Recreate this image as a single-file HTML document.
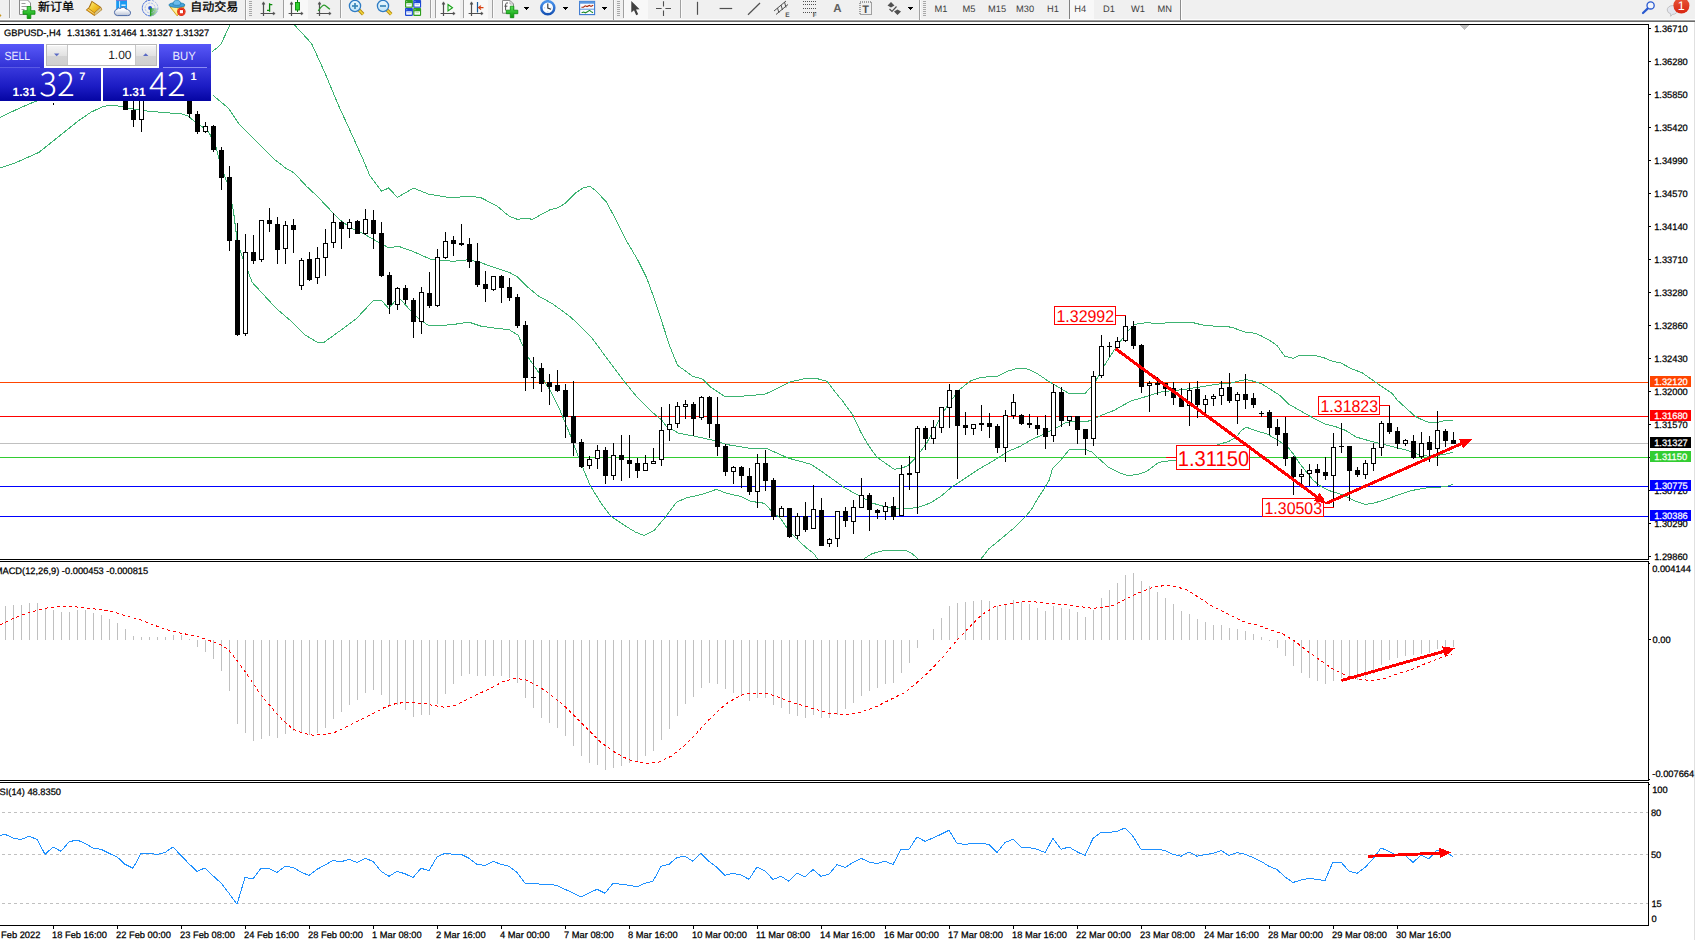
<!DOCTYPE html>
<html lang="zh"><head><meta charset="utf-8"><title>GBPUSD-,H4</title>
<style>
html,body{margin:0;padding:0;background:#fff;}
body{width:1695px;height:940px;overflow:hidden;position:relative;font-family:"Liberation Sans", "Noto Sans CJK SC", sans-serif;}
svg{position:absolute;left:0;top:0;display:block;}
text{font-family:"Liberation Sans", "Noto Sans CJK SC", sans-serif;white-space:pre;}
</style></head><body>
<svg width="1695" height="940" viewBox="0 0 1695 940" shape-rendering="crispEdges" text-rendering="geometricPrecision">
<defs>
<clipPath id="cm"><rect x="0" y="25" width="1648" height="534"/></clipPath>
<clipPath id="cmacd"><rect x="0" y="562" width="1648" height="218"/></clipPath>
<clipPath id="crsi"><rect x="0" y="783" width="1648" height="142"/></clipPath>
<linearGradient id="gbtn" x1="0" y1="0" x2="0" y2="1"><stop offset="0" stop-color="#5858f8"/><stop offset="1" stop-color="#3030d4"/></linearGradient>
<linearGradient id="gprice" x1="0" y1="0" x2="0" y2="1"><stop offset="0" stop-color="#3838dc"/><stop offset="0.55" stop-color="#1c1cc4"/><stop offset="1" stop-color="#0505a2"/></linearGradient>
<linearGradient id="gspin" x1="0" y1="0" x2="0" y2="1"><stop offset="0" stop-color="#f4f4f4"/><stop offset="0.5" stop-color="#e2e2e2"/><stop offset="0.5" stop-color="#d4d4d4"/><stop offset="1" stop-color="#cfcfcf"/></linearGradient>
<linearGradient id="gred" x1="0" y1="0" x2="0" y2="1"><stop offset="0" stop-color="#e8583a"/><stop offset="1" stop-color="#d82410"/></linearGradient>
<linearGradient id="ggold" x1="0" y1="0" x2="1" y2="1"><stop offset="0" stop-color="#fdf08a"/><stop offset="0.5" stop-color="#f2c428"/><stop offset="1" stop-color="#dc9a14"/></linearGradient>
<linearGradient id="gcloud" x1="0" y1="0" x2="0" y2="1"><stop offset="0.3" stop-color="#ffffff"/><stop offset="1" stop-color="#b8c2d6"/></linearGradient>
<linearGradient id="gsweep" x1="0" y1="0" x2="1" y2="0"><stop offset="0" stop-color="#2a9a2a"/><stop offset="1" stop-color="#cfe6cf"/></linearGradient>
<linearGradient id="gring" x1="0" y1="0" x2="0" y2="1"><stop offset="0" stop-color="#4a94ec"/><stop offset="1" stop-color="#1652b4"/></linearGradient>
<linearGradient id="glens" x1="0" y1="0" x2="0" y2="1"><stop offset="0" stop-color="#ecf9ff"/><stop offset="1" stop-color="#bfe2f6"/></linearGradient>
<linearGradient id="gblue" x1="0" y1="0" x2="0" y2="1"><stop offset="0" stop-color="#5aa8ee"/><stop offset="1" stop-color="#1c5fc0"/></linearGradient>
<linearGradient id="ggreen" x1="0" y1="0" x2="0" y2="1"><stop offset="0" stop-color="#55e055"/><stop offset="1" stop-color="#0a9a0a"/></linearGradient>
</defs>
<rect x="0" y="0" width="1695" height="940" fill="#fff" />
<g clip-path="url(#cm)">
<rect x="0" y="382" width="1648" height="1" fill="#ff4500" />
<rect x="0" y="416" width="1648" height="1" fill="#ff0000" />
<rect x="0" y="443" width="1648" height="1" fill="#c0c0c0" />
<rect x="0" y="457" width="1648" height="1" fill="#32cd32" />
<rect x="0" y="486" width="1648" height="1" fill="#0000ff" />
<rect x="0" y="516" width="1648" height="1" fill="#0000ff" />
<polyline points="0.0,117.4 15.6,110.0 31.2,103.1 60.0,92.0 100.0,82.0 150.0,70.0 190.0,60.0 212.9,51.2 220.7,44.7 229.8,25.2 232.0,18.0" fill="none" stroke="#3cb371" stroke-width="1" />
<polyline points="292.0,18.0 294.7,25.2 311.5,43.4 324.5,71.9 337.5,103.1 350.5,131.6 363.4,160.2 370.0,176.0 373.8,181.0 381.6,191.3 388.6,188.0 397.5,197.4 413.5,188.1 428.3,194.0 452.0,198.0 468.0,196.0 481.0,197.7 497.0,206.0 509.0,216.1 517.2,219.3 525.3,218.3 532.6,219.3 541.6,214.3 550.7,209.4 557.9,207.9 565.1,203.4 576.0,192.6 583.2,188.0 589.6,186.2 595.9,190.8 606.8,202.5 615.8,219.7 626.7,241.4 637.5,259.5 646.6,277.6 653.8,297.5 659.2,313.8 664.5,330.0 670.5,348.1 677.5,365.2 692.5,376.2 702.6,379.2 710.6,387.2 724.6,396.3 740.7,396.3 764.8,394.3 776.8,388.6 790.8,381.8 804.9,378.6 816.9,378.6 827.0,381.2 837.0,394.3 841.8,400.0 852.8,415.0 860.8,432.1 868.9,446.1 876.9,457.2 886.9,464.2 894.0,469.2 901.0,468.6 908.0,465.4 915.0,458.4 926.0,444.3 940.0,418.3 948.0,404.2 960.0,389.2 970.0,381.2 980.0,377.5 998.0,376.1 1008.0,371.1 1018.0,368.1 1028.0,369.1 1038.0,374.1 1048.5,381.3 1057.0,386.3 1068.3,393.1 1085.3,393.1 1090.3,387.7 1095.9,380.6 1103.7,366.5 1113.6,350.9 1120.7,341.0 1127.8,331.1 1134.9,324.4 1144.8,322.8 1160.4,323.3 1174.5,322.3 1192.9,322.6 1204.2,325.4 1218.4,326.4 1231.2,327.1 1245.3,332.2 1255.2,333.2 1260.0,335.3 1268.5,339.6 1277.0,345.5 1284.7,356.2 1293.2,358.3 1300.0,355.3 1313.6,355.3 1323.0,357.4 1332.3,361.3 1340.9,363.0 1351.1,368.5 1362.1,372.8 1374.9,381.7 1383.4,387.7 1391.9,393.2 1397.5,400.3 1407.1,409.1 1415.1,416.3 1421.5,419.5 1429.5,422.7 1437.4,422.3 1445.4,420.4 1452.9,420.4" fill="none" stroke="#3cb371" stroke-width="1" />
<polyline points="212.9,95.3 228.5,108.3 238.8,123.8 259.6,144.6 275.2,160.0 285.6,168.0 294.3,173.0 306.3,186.1 318.0,197.0 328.4,208.1 340.4,220.2 350.5,227.7 364.5,234.2 376.5,241.2 388.6,247.7 398.6,246.3 412.6,251.3 430.7,259.3 452.8,261.3 468.8,259.7 480.8,262.7 500.0,269.5 509.0,272.2 517.2,276.7 527.1,286.6 538.0,295.7 552.5,303.8 568.8,315.6 576.0,322.0 592.0,338.1 606.0,357.1 624.0,381.2 638.0,398.3 650.0,410.3 662.0,420.3 666.3,426.1 678.3,433.1 694.3,436.1 712.4,440.1 726.4,444.5 748.5,448.1 766.6,448.5 788.6,458.2 810.7,464.2 822.7,472.2 833.7,480.0 844.5,487.7 858.3,495.3 872.1,503.0 882.8,506.1 895.1,508.4 907.4,508.7 918.1,507.3 930.4,503.0 941.1,496.1 951.9,486.9 962.6,480.0 980.0,468.4 994.0,460.4 1008.0,451.4 1020.0,446.4 1032.0,439.3 1044.0,434.3 1060.0,425.9 1066.6,422.2 1078.4,421.6 1088.0,421.2 1094.0,418.6 1102.0,415.1 1114.0,410.4 1130.6,401.1 1144.8,396.9 1161.8,391.7 1181.6,389.8 1200.0,387.0 1217.0,384.2 1231.2,383.0 1241.1,380.6 1246.7,379.6 1253.8,381.3 1262.3,384.2 1272.2,390.5 1280.0,395.5 1289.0,404.3 1300.2,410.7 1313.0,417.9 1325.2,424.0 1337.6,427.3 1346.0,430.6 1356.0,437.0 1367.2,440.2 1380.0,443.4 1392.8,446.6 1405.5,449.8 1418.3,454.6 1427.9,456.2 1437.4,455.4 1447.0,453.8 1452.9,452.2" fill="none" stroke="#3cb371" stroke-width="1" />
<polyline points="0.0,168.0 15.6,162.8 38.9,152.4 51.9,142.0 64.9,131.6 77.9,121.2 90.9,112.2 103.8,106.2 114.2,105.2 129.8,108.3 145.4,110.9 166.1,112.7 181.7,114.0 188.2,116.1 197.3,123.8 207.7,130.3 215.5,144.6 220.7,165.4 228.5,186.2 233.6,212.1 237.1,240.2 242.1,256.3 252.2,282.4 276.2,308.4 290.3,320.5 304.3,334.5 318.4,343.0 324.4,342.1 340.4,330.5 356.5,318.5 373.5,300.4 381.5,300.4 388.6,308.4 395.6,300.4 400.6,299.4 408.6,308.4 420.7,320.5 428.7,325.5 450.8,324.9 468.8,322.1 480.8,326.1 496.9,328.5 508.9,329.5 518.0,335.1 528.0,357.1 540.0,374.2 550.0,390.2 560.0,410.3 570.0,434.4 580.0,461.0 590.4,486.0 601.8,504.3 611.0,516.3 626.0,526.4 636.0,532.4 644.2,535.4 654.2,530.4 664.3,518.4 676.3,502.3 686.3,497.9 702.4,494.3 716.4,489.3 726.4,493.3 740.5,496.3 750.5,501.3 764.6,503.3 772.6,512.3 780.6,518.4 788.6,530.4 796.6,538.4 800.0,542.1 807.7,549.0 813.8,553.6 817.6,559.0 822.0,566.0 858.0,566.0 863.7,559.0 872.1,553.6 882.8,550.9 895.1,550.1 905.8,550.6 912.0,553.6 918.1,559.0 923.0,566.0 976.0,566.0 981.0,559.0 988.7,549.0 997.9,541.4 1007.1,533.7 1016.3,526.0 1025.5,516.8 1031.6,509.1 1037.8,498.4 1043.9,489.2 1049.3,480.0 1052.5,468.4 1060.5,460.4 1069.5,449.4 1085.6,449.4 1092.6,452.4 1098.6,458.4 1108.6,467.4 1118.7,472.4 1126.7,475.4 1136.7,474.8 1146.7,471.4 1158.3,462.6 1164.0,461.2 1174.8,460.7 1185.0,456.0 1200.0,450.0 1217.3,444.9 1229.3,441.2 1236.7,436.6 1241.0,431.0 1246.0,427.1 1255.5,430.6 1266.7,433.8 1277.9,440.2 1287.4,446.6 1293.8,454.6 1300.2,464.1 1306.6,472.1 1313.0,480.1 1321.0,486.5 1328.9,490.5 1341.7,494.5 1354.5,500.8 1365.6,504.4 1373.6,503.2 1386.4,499.3 1399.1,494.5 1411.9,490.5 1424.7,488.1 1437.4,487.3 1447.0,486.5 1452.9,484.1" fill="none" stroke="#3cb371" stroke-width="1" />
<rect x="53" y="103" width="1" height="2" fill="#000" />
<rect x="125" y="90" width="1" height="20" fill="#000" />
<rect x="123" y="92" width="5" height="18" fill="#000" />
<rect x="133" y="100" width="1" height="27" fill="#000" />
<rect x="131" y="110" width="5" height="10" fill="#000" />
<rect x="141" y="95" width="1" height="37" fill="#000" />
<rect x="139" y="97" width="5" height="23" fill="#000" />
<rect x="140" y="98" width="3" height="21" fill="#fff" />
<rect x="189" y="90" width="1" height="28" fill="#000" />
<rect x="187" y="92" width="5" height="22" fill="#000" />
<rect x="197" y="111" width="1" height="23" fill="#000" />
<rect x="195" y="114" width="5" height="18" fill="#000" />
<rect x="205" y="122" width="1" height="11" fill="#000" />
<rect x="203" y="126" width="5" height="6" fill="#000" />
<rect x="204" y="127" width="3" height="4" fill="#fff" />
<rect x="213" y="125" width="1" height="27" fill="#000" />
<rect x="211" y="126" width="5" height="24" fill="#000" />
<rect x="221" y="147" width="1" height="43" fill="#000" />
<rect x="219" y="150" width="5" height="28" fill="#000" />
<rect x="229" y="166" width="1" height="85" fill="#000" />
<rect x="227" y="177" width="5" height="64" fill="#000" />
<rect x="237" y="223" width="1" height="113" fill="#000" />
<rect x="235" y="240" width="5" height="95" fill="#000" />
<rect x="245" y="234" width="1" height="102" fill="#000" />
<rect x="243" y="252" width="5" height="82" fill="#000" />
<rect x="244" y="253" width="3" height="80" fill="#fff" />
<rect x="253" y="235" width="1" height="29" fill="#000" />
<rect x="251" y="252" width="5" height="9" fill="#000" />
<rect x="261" y="220" width="1" height="42" fill="#000" />
<rect x="259" y="220" width="5" height="40" fill="#000" />
<rect x="260" y="221" width="3" height="38" fill="#fff" />
<rect x="269" y="208" width="1" height="24" fill="#000" />
<rect x="267" y="220" width="5" height="4" fill="#000" />
<rect x="277" y="217" width="1" height="47" fill="#000" />
<rect x="275" y="224" width="5" height="26" fill="#000" />
<rect x="285" y="221" width="1" height="43" fill="#000" />
<rect x="283" y="225" width="5" height="24" fill="#000" />
<rect x="284" y="226" width="3" height="22" fill="#fff" />
<rect x="293" y="219" width="1" height="34" fill="#000" />
<rect x="291" y="225" width="5" height="5" fill="#000" />
<rect x="301" y="258" width="1" height="32" fill="#000" />
<rect x="299" y="260" width="5" height="26" fill="#000" />
<rect x="300" y="261" width="3" height="24" fill="#fff" />
<rect x="309" y="252" width="1" height="29" fill="#000" />
<rect x="307" y="259" width="5" height="21" fill="#000" />
<rect x="317" y="247" width="1" height="37" fill="#000" />
<rect x="315" y="258" width="5" height="20" fill="#000" />
<rect x="316" y="259" width="3" height="18" fill="#fff" />
<rect x="325" y="229" width="1" height="47" fill="#000" />
<rect x="323" y="243" width="5" height="15" fill="#000" />
<rect x="324" y="244" width="3" height="13" fill="#fff" />
<rect x="333" y="213" width="1" height="35" fill="#000" />
<rect x="331" y="222" width="5" height="21" fill="#000" />
<rect x="332" y="223" width="3" height="19" fill="#fff" />
<rect x="341" y="221" width="1" height="28" fill="#000" />
<rect x="339" y="222" width="5" height="7" fill="#000" />
<rect x="349" y="219" width="1" height="19" fill="#000" />
<rect x="347" y="222" width="5" height="7" fill="#000" />
<rect x="348" y="223" width="3" height="5" fill="#fff" />
<rect x="357" y="220" width="1" height="14" fill="#000" />
<rect x="355" y="221" width="5" height="13" fill="#000" />
<rect x="365" y="209" width="1" height="26" fill="#000" />
<rect x="363" y="219" width="5" height="15" fill="#000" />
<rect x="364" y="220" width="3" height="13" fill="#fff" />
<rect x="373" y="210" width="1" height="39" fill="#000" />
<rect x="371" y="220" width="5" height="14" fill="#000" />
<rect x="381" y="222" width="1" height="55" fill="#000" />
<rect x="379" y="233" width="5" height="43" fill="#000" />
<rect x="389" y="272" width="1" height="42" fill="#000" />
<rect x="387" y="275" width="5" height="30" fill="#000" />
<rect x="397" y="287" width="1" height="23" fill="#000" />
<rect x="395" y="288" width="5" height="17" fill="#000" />
<rect x="396" y="289" width="3" height="15" fill="#fff" />
<rect x="405" y="285" width="1" height="19" fill="#000" />
<rect x="403" y="288" width="5" height="12" fill="#000" />
<rect x="413" y="298" width="1" height="40" fill="#000" />
<rect x="411" y="300" width="5" height="22" fill="#000" />
<rect x="421" y="287" width="1" height="47" fill="#000" />
<rect x="419" y="292" width="5" height="30" fill="#000" />
<rect x="420" y="293" width="3" height="28" fill="#fff" />
<rect x="429" y="272" width="1" height="36" fill="#000" />
<rect x="427" y="293" width="5" height="13" fill="#000" />
<rect x="437" y="249" width="1" height="58" fill="#000" />
<rect x="435" y="257" width="5" height="49" fill="#000" />
<rect x="436" y="258" width="3" height="47" fill="#fff" />
<rect x="445" y="232" width="1" height="27" fill="#000" />
<rect x="443" y="241" width="5" height="17" fill="#000" />
<rect x="444" y="242" width="3" height="15" fill="#fff" />
<rect x="453" y="236" width="1" height="20" fill="#000" />
<rect x="451" y="240" width="5" height="4" fill="#000" />
<rect x="461" y="224" width="1" height="22" fill="#000" />
<rect x="459" y="243" width="5" height="2" fill="#000" />
<rect x="469" y="238" width="1" height="30" fill="#000" />
<rect x="467" y="244" width="5" height="18" fill="#000" />
<rect x="477" y="243" width="1" height="44" fill="#000" />
<rect x="475" y="261" width="5" height="24" fill="#000" />
<rect x="485" y="271" width="1" height="31" fill="#000" />
<rect x="483" y="284" width="5" height="5" fill="#000" />
<rect x="493" y="276" width="1" height="15" fill="#000" />
<rect x="491" y="276" width="5" height="14" fill="#000" />
<rect x="492" y="277" width="3" height="12" fill="#fff" />
<rect x="501" y="275" width="1" height="28" fill="#000" />
<rect x="499" y="276" width="5" height="12" fill="#000" />
<rect x="509" y="278" width="1" height="23" fill="#000" />
<rect x="507" y="287" width="5" height="11" fill="#000" />
<rect x="517" y="294" width="1" height="34" fill="#000" />
<rect x="515" y="297" width="5" height="29" fill="#000" />
<rect x="525" y="321" width="1" height="70" fill="#000" />
<rect x="523" y="325" width="5" height="53" fill="#000" />
<rect x="533" y="357" width="1" height="32" fill="#000" />
<rect x="531" y="377" width="5" height="1" fill="#000" />
<rect x="541" y="363" width="1" height="29" fill="#000" />
<rect x="539" y="368" width="5" height="16" fill="#000" />
<rect x="549" y="374" width="1" height="31" fill="#000" />
<rect x="547" y="382" width="5" height="5" fill="#000" />
<rect x="557" y="370" width="1" height="22" fill="#000" />
<rect x="555" y="385" width="5" height="6" fill="#000" />
<rect x="565" y="384" width="1" height="54" fill="#000" />
<rect x="563" y="390" width="5" height="27" fill="#000" />
<rect x="573" y="381" width="1" height="75" fill="#000" />
<rect x="571" y="416" width="5" height="27" fill="#000" />
<rect x="581" y="439" width="1" height="29" fill="#000" />
<rect x="579" y="442" width="5" height="25" fill="#000" />
<rect x="589" y="456" width="1" height="13" fill="#000" />
<rect x="587" y="459" width="5" height="7" fill="#000" />
<rect x="588" y="460" width="3" height="5" fill="#fff" />
<rect x="597" y="445" width="1" height="24" fill="#000" />
<rect x="595" y="450" width="5" height="9" fill="#000" />
<rect x="596" y="451" width="3" height="7" fill="#fff" />
<rect x="605" y="447" width="1" height="37" fill="#000" />
<rect x="603" y="450" width="5" height="26" fill="#000" />
<rect x="613" y="443" width="1" height="37" fill="#000" />
<rect x="611" y="455" width="5" height="21" fill="#000" />
<rect x="612" y="456" width="3" height="19" fill="#fff" />
<rect x="621" y="435" width="1" height="46" fill="#000" />
<rect x="619" y="455" width="5" height="5" fill="#000" />
<rect x="629" y="435" width="1" height="43" fill="#000" />
<rect x="627" y="460" width="5" height="4" fill="#000" />
<rect x="637" y="458" width="1" height="20" fill="#000" />
<rect x="635" y="463" width="5" height="8" fill="#000" />
<rect x="645" y="455" width="1" height="16" fill="#000" />
<rect x="643" y="463" width="5" height="8" fill="#000" />
<rect x="644" y="464" width="3" height="6" fill="#fff" />
<rect x="653" y="448" width="1" height="16" fill="#000" />
<rect x="651" y="461" width="5" height="3" fill="#000" />
<rect x="652" y="462" width="3" height="1" fill="#fff" />
<rect x="661" y="407" width="1" height="59" fill="#000" />
<rect x="659" y="430" width="5" height="30" fill="#000" />
<rect x="660" y="431" width="3" height="28" fill="#fff" />
<rect x="669" y="404" width="1" height="37" fill="#000" />
<rect x="667" y="424" width="5" height="6" fill="#000" />
<rect x="668" y="425" width="3" height="4" fill="#fff" />
<rect x="677" y="402" width="1" height="26" fill="#000" />
<rect x="675" y="406" width="5" height="18" fill="#000" />
<rect x="676" y="407" width="3" height="16" fill="#fff" />
<rect x="685" y="400" width="1" height="19" fill="#000" />
<rect x="683" y="404" width="5" height="3" fill="#000" />
<rect x="684" y="405" width="3" height="1" fill="#fff" />
<rect x="693" y="402" width="1" height="34" fill="#000" />
<rect x="691" y="404" width="5" height="15" fill="#000" />
<rect x="701" y="396" width="1" height="24" fill="#000" />
<rect x="699" y="397" width="5" height="21" fill="#000" />
<rect x="700" y="398" width="3" height="19" fill="#fff" />
<rect x="709" y="396" width="1" height="42" fill="#000" />
<rect x="707" y="397" width="5" height="27" fill="#000" />
<rect x="717" y="397" width="1" height="59" fill="#000" />
<rect x="715" y="424" width="5" height="23" fill="#000" />
<rect x="725" y="444" width="1" height="32" fill="#000" />
<rect x="723" y="446" width="5" height="26" fill="#000" />
<rect x="733" y="466" width="1" height="18" fill="#000" />
<rect x="731" y="467" width="5" height="5" fill="#000" />
<rect x="732" y="468" width="3" height="3" fill="#fff" />
<rect x="741" y="466" width="1" height="22" fill="#000" />
<rect x="739" y="467" width="5" height="9" fill="#000" />
<rect x="749" y="468" width="1" height="27" fill="#000" />
<rect x="747" y="476" width="5" height="16" fill="#000" />
<rect x="757" y="454" width="1" height="54" fill="#000" />
<rect x="755" y="463" width="5" height="29" fill="#000" />
<rect x="756" y="464" width="3" height="27" fill="#fff" />
<rect x="765" y="450" width="1" height="41" fill="#000" />
<rect x="763" y="463" width="5" height="18" fill="#000" />
<rect x="773" y="478" width="1" height="42" fill="#000" />
<rect x="771" y="480" width="5" height="37" fill="#000" />
<rect x="781" y="506" width="1" height="11" fill="#000" />
<rect x="779" y="508" width="5" height="9" fill="#000" />
<rect x="780" y="509" width="3" height="7" fill="#fff" />
<rect x="789" y="508" width="1" height="30" fill="#000" />
<rect x="787" y="508" width="5" height="29" fill="#000" />
<rect x="797" y="513" width="1" height="26" fill="#000" />
<rect x="795" y="516" width="5" height="20" fill="#000" />
<rect x="796" y="517" width="3" height="18" fill="#fff" />
<rect x="805" y="502" width="1" height="30" fill="#000" />
<rect x="803" y="516" width="5" height="14" fill="#000" />
<rect x="813" y="485" width="1" height="44" fill="#000" />
<rect x="811" y="509" width="5" height="20" fill="#000" />
<rect x="812" y="510" width="3" height="18" fill="#fff" />
<rect x="821" y="498" width="1" height="48" fill="#000" />
<rect x="819" y="510" width="5" height="36" fill="#000" />
<rect x="829" y="538" width="1" height="9" fill="#000" />
<rect x="827" y="539" width="5" height="5" fill="#000" />
<rect x="828" y="540" width="3" height="3" fill="#fff" />
<rect x="837" y="511" width="1" height="36" fill="#000" />
<rect x="835" y="511" width="5" height="28" fill="#000" />
<rect x="836" y="512" width="3" height="26" fill="#fff" />
<rect x="845" y="507" width="1" height="20" fill="#000" />
<rect x="843" y="511" width="5" height="10" fill="#000" />
<rect x="853" y="500" width="1" height="34" fill="#000" />
<rect x="851" y="507" width="5" height="15" fill="#000" />
<rect x="852" y="508" width="3" height="13" fill="#fff" />
<rect x="861" y="478" width="1" height="30" fill="#000" />
<rect x="859" y="495" width="5" height="13" fill="#000" />
<rect x="860" y="496" width="3" height="11" fill="#fff" />
<rect x="869" y="493" width="1" height="38" fill="#000" />
<rect x="867" y="495" width="5" height="15" fill="#000" />
<rect x="877" y="509" width="1" height="10" fill="#000" />
<rect x="875" y="510" width="5" height="3" fill="#000" />
<rect x="885" y="502" width="1" height="18" fill="#000" />
<rect x="883" y="506" width="5" height="6" fill="#000" />
<rect x="884" y="507" width="3" height="4" fill="#fff" />
<rect x="893" y="497" width="1" height="23" fill="#000" />
<rect x="891" y="506" width="5" height="11" fill="#000" />
<rect x="901" y="465" width="1" height="51" fill="#000" />
<rect x="899" y="474" width="5" height="42" fill="#000" />
<rect x="900" y="475" width="3" height="40" fill="#fff" />
<rect x="909" y="456" width="1" height="34" fill="#000" />
<rect x="907" y="473" width="5" height="2" fill="#000" />
<rect x="917" y="426" width="1" height="88" fill="#000" />
<rect x="915" y="428" width="5" height="45" fill="#000" />
<rect x="916" y="429" width="3" height="43" fill="#fff" />
<rect x="925" y="426" width="1" height="24" fill="#000" />
<rect x="923" y="428" width="5" height="11" fill="#000" />
<rect x="933" y="420" width="1" height="24" fill="#000" />
<rect x="931" y="427" width="5" height="12" fill="#000" />
<rect x="932" y="428" width="3" height="10" fill="#fff" />
<rect x="941" y="407" width="1" height="26" fill="#000" />
<rect x="939" y="407" width="5" height="21" fill="#000" />
<rect x="940" y="408" width="3" height="19" fill="#fff" />
<rect x="949" y="384" width="1" height="44" fill="#000" />
<rect x="947" y="390" width="5" height="18" fill="#000" />
<rect x="948" y="391" width="3" height="16" fill="#fff" />
<rect x="957" y="390" width="1" height="89" fill="#000" />
<rect x="955" y="390" width="5" height="36" fill="#000" />
<rect x="965" y="412" width="1" height="23" fill="#000" />
<rect x="963" y="425" width="5" height="3" fill="#000" />
<rect x="973" y="424" width="1" height="11" fill="#000" />
<rect x="971" y="424" width="5" height="5" fill="#000" />
<rect x="972" y="425" width="3" height="3" fill="#fff" />
<rect x="981" y="405" width="1" height="26" fill="#000" />
<rect x="979" y="423" width="5" height="2" fill="#000" />
<rect x="989" y="413" width="1" height="25" fill="#000" />
<rect x="987" y="423" width="5" height="4" fill="#000" />
<rect x="997" y="424" width="1" height="29" fill="#000" />
<rect x="995" y="426" width="5" height="22" fill="#000" />
<rect x="1005" y="410" width="1" height="52" fill="#000" />
<rect x="1003" y="415" width="5" height="33" fill="#000" />
<rect x="1004" y="416" width="3" height="31" fill="#fff" />
<rect x="1013" y="394" width="1" height="25" fill="#000" />
<rect x="1011" y="402" width="5" height="14" fill="#000" />
<rect x="1012" y="403" width="3" height="12" fill="#fff" />
<rect x="1021" y="414" width="1" height="11" fill="#000" />
<rect x="1019" y="415" width="5" height="9" fill="#000" />
<rect x="1029" y="414" width="1" height="14" fill="#000" />
<rect x="1027" y="423" width="5" height="2" fill="#000" />
<rect x="1037" y="417" width="1" height="18" fill="#000" />
<rect x="1035" y="425" width="5" height="4" fill="#000" />
<rect x="1045" y="415" width="1" height="34" fill="#000" />
<rect x="1043" y="428" width="5" height="9" fill="#000" />
<rect x="1053" y="384" width="1" height="58" fill="#000" />
<rect x="1051" y="392" width="5" height="44" fill="#000" />
<rect x="1052" y="393" width="3" height="42" fill="#fff" />
<rect x="1061" y="387" width="1" height="40" fill="#000" />
<rect x="1059" y="392" width="5" height="29" fill="#000" />
<rect x="1069" y="416" width="1" height="10" fill="#000" />
<rect x="1067" y="416" width="5" height="5" fill="#000" />
<rect x="1068" y="417" width="3" height="3" fill="#fff" />
<rect x="1077" y="416" width="1" height="28" fill="#000" />
<rect x="1075" y="416" width="5" height="14" fill="#000" />
<rect x="1085" y="429" width="1" height="26" fill="#000" />
<rect x="1083" y="429" width="5" height="10" fill="#000" />
<rect x="1093" y="371" width="1" height="75" fill="#000" />
<rect x="1091" y="376" width="5" height="63" fill="#000" />
<rect x="1092" y="377" width="3" height="61" fill="#fff" />
<rect x="1101" y="335" width="1" height="43" fill="#000" />
<rect x="1099" y="346" width="5" height="30" fill="#000" />
<rect x="1100" y="347" width="3" height="28" fill="#fff" />
<rect x="1109" y="342" width="1" height="15" fill="#000" />
<rect x="1107" y="346" width="5" height="1" fill="#000" />
<rect x="1117" y="337" width="1" height="11" fill="#000" />
<rect x="1115" y="341" width="5" height="7" fill="#000" />
<rect x="1116" y="342" width="3" height="5" fill="#fff" />
<rect x="1125" y="316" width="1" height="26" fill="#000" />
<rect x="1123" y="326" width="5" height="15" fill="#000" />
<rect x="1124" y="327" width="3" height="13" fill="#fff" />
<rect x="1133" y="321" width="1" height="28" fill="#000" />
<rect x="1131" y="326" width="5" height="20" fill="#000" />
<rect x="1141" y="344" width="1" height="49" fill="#000" />
<rect x="1139" y="345" width="5" height="42" fill="#000" />
<rect x="1149" y="381" width="1" height="31" fill="#000" />
<rect x="1147" y="383" width="5" height="3" fill="#000" />
<rect x="1148" y="384" width="3" height="1" fill="#fff" />
<rect x="1157" y="377" width="1" height="18" fill="#000" />
<rect x="1155" y="383" width="5" height="2" fill="#000" />
<rect x="1165" y="383" width="1" height="13" fill="#000" />
<rect x="1163" y="383" width="5" height="6" fill="#000" />
<rect x="1173" y="382" width="1" height="23" fill="#000" />
<rect x="1171" y="388" width="5" height="10" fill="#000" />
<rect x="1181" y="388" width="1" height="19" fill="#000" />
<rect x="1179" y="398" width="5" height="9" fill="#000" />
<rect x="1189" y="383" width="1" height="43" fill="#000" />
<rect x="1187" y="390" width="5" height="16" fill="#000" />
<rect x="1188" y="391" width="3" height="14" fill="#fff" />
<rect x="1197" y="381" width="1" height="37" fill="#000" />
<rect x="1195" y="389" width="5" height="16" fill="#000" />
<rect x="1205" y="395" width="1" height="19" fill="#000" />
<rect x="1203" y="399" width="5" height="6" fill="#000" />
<rect x="1204" y="400" width="3" height="4" fill="#fff" />
<rect x="1213" y="394" width="1" height="12" fill="#000" />
<rect x="1211" y="396" width="5" height="3" fill="#000" />
<rect x="1212" y="397" width="3" height="1" fill="#fff" />
<rect x="1221" y="381" width="1" height="24" fill="#000" />
<rect x="1219" y="388" width="5" height="8" fill="#000" />
<rect x="1220" y="389" width="3" height="6" fill="#fff" />
<rect x="1229" y="373" width="1" height="30" fill="#000" />
<rect x="1227" y="387" width="5" height="14" fill="#000" />
<rect x="1237" y="392" width="1" height="32" fill="#000" />
<rect x="1235" y="394" width="5" height="7" fill="#000" />
<rect x="1236" y="395" width="3" height="5" fill="#fff" />
<rect x="1245" y="374" width="1" height="35" fill="#000" />
<rect x="1243" y="394" width="5" height="6" fill="#000" />
<rect x="1253" y="393" width="1" height="15" fill="#000" />
<rect x="1251" y="398" width="5" height="7" fill="#000" />
<rect x="1261" y="411" width="1" height="6" fill="#000" />
<rect x="1259" y="413" width="5" height="1" fill="#000" />
<rect x="1269" y="410" width="1" height="25" fill="#000" />
<rect x="1267" y="412" width="5" height="16" fill="#000" />
<rect x="1277" y="419" width="1" height="27" fill="#000" />
<rect x="1275" y="427" width="5" height="8" fill="#000" />
<rect x="1285" y="417" width="1" height="49" fill="#000" />
<rect x="1283" y="433" width="5" height="26" fill="#000" />
<rect x="1293" y="456" width="1" height="39" fill="#000" />
<rect x="1291" y="457" width="5" height="20" fill="#000" />
<rect x="1301" y="469" width="1" height="17" fill="#000" />
<rect x="1299" y="474" width="5" height="3" fill="#000" />
<rect x="1300" y="475" width="3" height="1" fill="#fff" />
<rect x="1309" y="464" width="1" height="22" fill="#000" />
<rect x="1307" y="470" width="5" height="4" fill="#000" />
<rect x="1308" y="471" width="3" height="2" fill="#fff" />
<rect x="1317" y="464" width="1" height="22" fill="#000" />
<rect x="1315" y="469" width="5" height="4" fill="#000" />
<rect x="1325" y="457" width="1" height="23" fill="#000" />
<rect x="1323" y="472" width="5" height="4" fill="#000" />
<rect x="1333" y="433" width="1" height="75" fill="#000" />
<rect x="1331" y="447" width="5" height="29" fill="#000" />
<rect x="1332" y="448" width="3" height="27" fill="#fff" />
<rect x="1341" y="423" width="1" height="30" fill="#000" />
<rect x="1339" y="446" width="5" height="1" fill="#000" />
<rect x="1349" y="446" width="1" height="55" fill="#000" />
<rect x="1347" y="446" width="5" height="25" fill="#000" />
<rect x="1357" y="467" width="1" height="10" fill="#000" />
<rect x="1355" y="470" width="5" height="5" fill="#000" />
<rect x="1365" y="460" width="1" height="19" fill="#000" />
<rect x="1363" y="463" width="5" height="12" fill="#000" />
<rect x="1364" y="464" width="3" height="10" fill="#fff" />
<rect x="1373" y="443" width="1" height="28" fill="#000" />
<rect x="1371" y="448" width="5" height="16" fill="#000" />
<rect x="1372" y="449" width="3" height="14" fill="#fff" />
<rect x="1381" y="421" width="1" height="35" fill="#000" />
<rect x="1379" y="423" width="5" height="25" fill="#000" />
<rect x="1380" y="424" width="3" height="23" fill="#fff" />
<rect x="1389" y="405" width="1" height="29" fill="#000" />
<rect x="1387" y="423" width="5" height="9" fill="#000" />
<rect x="1397" y="427" width="1" height="22" fill="#000" />
<rect x="1395" y="431" width="5" height="13" fill="#000" />
<rect x="1405" y="439" width="1" height="7" fill="#000" />
<rect x="1403" y="440" width="5" height="4" fill="#000" />
<rect x="1404" y="441" width="3" height="2" fill="#fff" />
<rect x="1413" y="435" width="1" height="24" fill="#000" />
<rect x="1411" y="441" width="5" height="17" fill="#000" />
<rect x="1421" y="432" width="1" height="27" fill="#000" />
<rect x="1419" y="443" width="5" height="14" fill="#000" />
<rect x="1420" y="444" width="3" height="12" fill="#fff" />
<rect x="1429" y="436" width="1" height="26" fill="#000" />
<rect x="1427" y="442" width="5" height="8" fill="#000" />
<rect x="1437" y="411" width="1" height="55" fill="#000" />
<rect x="1435" y="430" width="5" height="19" fill="#000" />
<rect x="1436" y="431" width="3" height="17" fill="#fff" />
<rect x="1445" y="429" width="1" height="18" fill="#000" />
<rect x="1443" y="431" width="5" height="10" fill="#000" />
<rect x="1453" y="432" width="1" height="12" fill="#000" />
<rect x="1451" y="440" width="5" height="4" fill="#000" />
</g>
<rect x="1116" y="315" width="10" height="1" fill="#ff0000" />
<rect x="1054" y="306" width="62" height="19" fill="#ff0000" />
<rect x="1055" y="307" width="60" height="17" fill="#fff" />
<text x="1056.5" y="321.6" font-size="17" fill="#ff0000" text-anchor="start" font-weight="normal" textLength="57.6" lengthAdjust="spacingAndGlyphs">1.32992</text>
<rect x="1380" y="405" width="10" height="1" fill="#ff0000" />
<rect x="1318" y="396" width="62" height="19" fill="#ff0000" />
<rect x="1319" y="397" width="60" height="17" fill="#fff" />
<text x="1320.5" y="411.6" font-size="17" fill="#ff0000" text-anchor="start" font-weight="normal" textLength="57.6" lengthAdjust="spacingAndGlyphs">1.31823</text>
<rect x="1324" y="507" width="10" height="1" fill="#ff0000" />
<rect x="1262" y="498" width="62" height="19" fill="#ff0000" />
<rect x="1263" y="499" width="60" height="17" fill="#fff" />
<text x="1264.5" y="513.6" font-size="17" fill="#ff0000" text-anchor="start" font-weight="normal" textLength="57.6" lengthAdjust="spacingAndGlyphs">1.30503</text>
<rect x="1166" y="457" width="10" height="1" fill="#ff0000" />
<rect x="1176" y="445" width="74" height="25" fill="#ff0000" />
<rect x="1177" y="446" width="72" height="23" fill="#fff" />
<text x="1177.8" y="465.8" font-size="21.5" fill="#ff0000" text-anchor="start" font-weight="normal" textLength="71.4" lengthAdjust="spacingAndGlyphs">1.31150</text>
<line x1="1115.8" y1="348.9" x2="1318.2" y2="497.9" stroke="#ff0000" stroke-width="3.05"/>
<polygon points="1326.3,503.8 1313.6,500.9 1319.7,492.5" fill="#ff0000"/>
<line x1="1326.2" y1="503.4" x2="1463.0" y2="443.0" stroke="#ff0000" stroke-width="2.9"/>
<polygon points="1472.1,439.0 1463.2,448.6 1459.0,439.1" fill="#ff0000"/>
<g clip-path="url(#cmacd)">
<rect x="5" y="606" width="1" height="34" fill="#c0c0c0" />
<rect x="13" y="605" width="1" height="35" fill="#c0c0c0" />
<rect x="21" y="605" width="1" height="35" fill="#c0c0c0" />
<rect x="29" y="603" width="1" height="37" fill="#c0c0c0" />
<rect x="37" y="603" width="1" height="37" fill="#c0c0c0" />
<rect x="45" y="608" width="1" height="32" fill="#c0c0c0" />
<rect x="53" y="610" width="1" height="30" fill="#c0c0c0" />
<rect x="61" y="612" width="1" height="28" fill="#c0c0c0" />
<rect x="69" y="612" width="1" height="28" fill="#c0c0c0" />
<rect x="77" y="610" width="1" height="30" fill="#c0c0c0" />
<rect x="85" y="610" width="1" height="30" fill="#c0c0c0" />
<rect x="93" y="613" width="1" height="27" fill="#c0c0c0" />
<rect x="101" y="615" width="1" height="25" fill="#c0c0c0" />
<rect x="109" y="619" width="1" height="21" fill="#c0c0c0" />
<rect x="117" y="623" width="1" height="17" fill="#c0c0c0" />
<rect x="125" y="629" width="1" height="11" fill="#c0c0c0" />
<rect x="133" y="636" width="1" height="4" fill="#c0c0c0" />
<rect x="141" y="637" width="1" height="3" fill="#c0c0c0" />
<rect x="149" y="637" width="1" height="3" fill="#c0c0c0" />
<rect x="157" y="637" width="1" height="3" fill="#c0c0c0" />
<rect x="165" y="637" width="1" height="3" fill="#c0c0c0" />
<rect x="173" y="635" width="1" height="5" fill="#c0c0c0" />
<rect x="181" y="635" width="1" height="5" fill="#c0c0c0" />
<rect x="189" y="639" width="1" height="1" fill="#c0c0c0" />
<rect x="197" y="640" width="1" height="7" fill="#c0c0c0" />
<rect x="205" y="640" width="1" height="12" fill="#c0c0c0" />
<rect x="213" y="640" width="1" height="19" fill="#c0c0c0" />
<rect x="221" y="640" width="1" height="31" fill="#c0c0c0" />
<rect x="229" y="640" width="1" height="51" fill="#c0c0c0" />
<rect x="237" y="640" width="1" height="84" fill="#c0c0c0" />
<rect x="245" y="640" width="1" height="93" fill="#c0c0c0" />
<rect x="253" y="640" width="1" height="101" fill="#c0c0c0" />
<rect x="261" y="640" width="1" height="99" fill="#c0c0c0" />
<rect x="269" y="640" width="1" height="96" fill="#c0c0c0" />
<rect x="277" y="640" width="1" height="98" fill="#c0c0c0" />
<rect x="285" y="640" width="1" height="94" fill="#c0c0c0" />
<rect x="293" y="640" width="1" height="91" fill="#c0c0c0" />
<rect x="301" y="640" width="1" height="93" fill="#c0c0c0" />
<rect x="309" y="640" width="1" height="95" fill="#c0c0c0" />
<rect x="317" y="640" width="1" height="93" fill="#c0c0c0" />
<rect x="325" y="640" width="1" height="88" fill="#c0c0c0" />
<rect x="333" y="640" width="1" height="79" fill="#c0c0c0" />
<rect x="341" y="640" width="1" height="72" fill="#c0c0c0" />
<rect x="349" y="640" width="1" height="65" fill="#c0c0c0" />
<rect x="357" y="640" width="1" height="60" fill="#c0c0c0" />
<rect x="365" y="640" width="1" height="53" fill="#c0c0c0" />
<rect x="373" y="640" width="1" height="50" fill="#c0c0c0" />
<rect x="381" y="640" width="1" height="55" fill="#c0c0c0" />
<rect x="389" y="640" width="1" height="65" fill="#c0c0c0" />
<rect x="397" y="640" width="1" height="65" fill="#c0c0c0" />
<rect x="405" y="640" width="1" height="70" fill="#c0c0c0" />
<rect x="413" y="640" width="1" height="77" fill="#c0c0c0" />
<rect x="421" y="640" width="1" height="75" fill="#c0c0c0" />
<rect x="429" y="640" width="1" height="75" fill="#c0c0c0" />
<rect x="437" y="640" width="1" height="64" fill="#c0c0c0" />
<rect x="445" y="640" width="1" height="54" fill="#c0c0c0" />
<rect x="453" y="640" width="1" height="44" fill="#c0c0c0" />
<rect x="461" y="640" width="1" height="36" fill="#c0c0c0" />
<rect x="469" y="640" width="1" height="34" fill="#c0c0c0" />
<rect x="477" y="640" width="1" height="36" fill="#c0c0c0" />
<rect x="485" y="640" width="1" height="36" fill="#c0c0c0" />
<rect x="493" y="640" width="1" height="36" fill="#c0c0c0" />
<rect x="501" y="640" width="1" height="36" fill="#c0c0c0" />
<rect x="509" y="640" width="1" height="38" fill="#c0c0c0" />
<rect x="517" y="640" width="1" height="43" fill="#c0c0c0" />
<rect x="525" y="640" width="1" height="58" fill="#c0c0c0" />
<rect x="533" y="640" width="1" height="68" fill="#c0c0c0" />
<rect x="541" y="640" width="1" height="78" fill="#c0c0c0" />
<rect x="549" y="640" width="1" height="83" fill="#c0c0c0" />
<rect x="557" y="640" width="1" height="88" fill="#c0c0c0" />
<rect x="565" y="640" width="1" height="96" fill="#c0c0c0" />
<rect x="573" y="640" width="1" height="106" fill="#c0c0c0" />
<rect x="581" y="640" width="1" height="116" fill="#c0c0c0" />
<rect x="589" y="640" width="1" height="123" fill="#c0c0c0" />
<rect x="597" y="640" width="1" height="125" fill="#c0c0c0" />
<rect x="605" y="640" width="1" height="130" fill="#c0c0c0" />
<rect x="613" y="640" width="1" height="128" fill="#c0c0c0" />
<rect x="621" y="640" width="1" height="126" fill="#c0c0c0" />
<rect x="629" y="640" width="1" height="123" fill="#c0c0c0" />
<rect x="637" y="640" width="1" height="122" fill="#c0c0c0" />
<rect x="645" y="640" width="1" height="116" fill="#c0c0c0" />
<rect x="653" y="640" width="1" height="111" fill="#c0c0c0" />
<rect x="661" y="640" width="1" height="100" fill="#c0c0c0" />
<rect x="669" y="640" width="1" height="89" fill="#c0c0c0" />
<rect x="677" y="640" width="1" height="76" fill="#c0c0c0" />
<rect x="685" y="640" width="1" height="64" fill="#c0c0c0" />
<rect x="693" y="640" width="1" height="57" fill="#c0c0c0" />
<rect x="701" y="640" width="1" height="48" fill="#c0c0c0" />
<rect x="709" y="640" width="1" height="43" fill="#c0c0c0" />
<rect x="717" y="640" width="1" height="44" fill="#c0c0c0" />
<rect x="725" y="640" width="1" height="49" fill="#c0c0c0" />
<rect x="733" y="640" width="1" height="53" fill="#c0c0c0" />
<rect x="741" y="640" width="1" height="55" fill="#c0c0c0" />
<rect x="749" y="640" width="1" height="61" fill="#c0c0c0" />
<rect x="757" y="640" width="1" height="58" fill="#c0c0c0" />
<rect x="765" y="640" width="1" height="58" fill="#c0c0c0" />
<rect x="773" y="640" width="1" height="65" fill="#c0c0c0" />
<rect x="781" y="640" width="1" height="68" fill="#c0c0c0" />
<rect x="789" y="640" width="1" height="74" fill="#c0c0c0" />
<rect x="797" y="640" width="1" height="76" fill="#c0c0c0" />
<rect x="805" y="640" width="1" height="78" fill="#c0c0c0" />
<rect x="813" y="640" width="1" height="75" fill="#c0c0c0" />
<rect x="821" y="640" width="1" height="78" fill="#c0c0c0" />
<rect x="829" y="640" width="1" height="78" fill="#c0c0c0" />
<rect x="837" y="640" width="1" height="75" fill="#c0c0c0" />
<rect x="845" y="640" width="1" height="69" fill="#c0c0c0" />
<rect x="853" y="640" width="1" height="63" fill="#c0c0c0" />
<rect x="861" y="640" width="1" height="56" fill="#c0c0c0" />
<rect x="869" y="640" width="1" height="51" fill="#c0c0c0" />
<rect x="877" y="640" width="1" height="48" fill="#c0c0c0" />
<rect x="885" y="640" width="1" height="44" fill="#c0c0c0" />
<rect x="893" y="640" width="1" height="43" fill="#c0c0c0" />
<rect x="901" y="640" width="1" height="33" fill="#c0c0c0" />
<rect x="909" y="640" width="1" height="23" fill="#c0c0c0" />
<rect x="917" y="640" width="1" height="8" fill="#c0c0c0" />
<rect x="933" y="629" width="1" height="11" fill="#c0c0c0" />
<rect x="941" y="618" width="1" height="22" fill="#c0c0c0" />
<rect x="949" y="606" width="1" height="34" fill="#c0c0c0" />
<rect x="957" y="603" width="1" height="37" fill="#c0c0c0" />
<rect x="965" y="602" width="1" height="38" fill="#c0c0c0" />
<rect x="973" y="601" width="1" height="39" fill="#c0c0c0" />
<rect x="981" y="600" width="1" height="40" fill="#c0c0c0" />
<rect x="989" y="601" width="1" height="39" fill="#c0c0c0" />
<rect x="997" y="606" width="1" height="34" fill="#c0c0c0" />
<rect x="1005" y="604" width="1" height="36" fill="#c0c0c0" />
<rect x="1013" y="600" width="1" height="40" fill="#c0c0c0" />
<rect x="1021" y="602" width="1" height="38" fill="#c0c0c0" />
<rect x="1029" y="604" width="1" height="36" fill="#c0c0c0" />
<rect x="1037" y="608" width="1" height="32" fill="#c0c0c0" />
<rect x="1045" y="611" width="1" height="29" fill="#c0c0c0" />
<rect x="1053" y="606" width="1" height="34" fill="#c0c0c0" />
<rect x="1061" y="608" width="1" height="32" fill="#c0c0c0" />
<rect x="1069" y="609" width="1" height="31" fill="#c0c0c0" />
<rect x="1077" y="612" width="1" height="28" fill="#c0c0c0" />
<rect x="1085" y="617" width="1" height="23" fill="#c0c0c0" />
<rect x="1093" y="610" width="1" height="30" fill="#c0c0c0" />
<rect x="1101" y="598" width="1" height="42" fill="#c0c0c0" />
<rect x="1109" y="590" width="1" height="50" fill="#c0c0c0" />
<rect x="1117" y="583" width="1" height="57" fill="#c0c0c0" />
<rect x="1125" y="575" width="1" height="65" fill="#c0c0c0" />
<rect x="1133" y="573" width="1" height="67" fill="#c0c0c0" />
<rect x="1141" y="581" width="1" height="59" fill="#c0c0c0" />
<rect x="1149" y="586" width="1" height="54" fill="#c0c0c0" />
<rect x="1157" y="592" width="1" height="48" fill="#c0c0c0" />
<rect x="1165" y="598" width="1" height="42" fill="#c0c0c0" />
<rect x="1173" y="604" width="1" height="36" fill="#c0c0c0" />
<rect x="1181" y="611" width="1" height="29" fill="#c0c0c0" />
<rect x="1189" y="614" width="1" height="26" fill="#c0c0c0" />
<rect x="1197" y="619" width="1" height="21" fill="#c0c0c0" />
<rect x="1205" y="622" width="1" height="18" fill="#c0c0c0" />
<rect x="1213" y="625" width="1" height="15" fill="#c0c0c0" />
<rect x="1221" y="625" width="1" height="15" fill="#c0c0c0" />
<rect x="1229" y="628" width="1" height="12" fill="#c0c0c0" />
<rect x="1237" y="629" width="1" height="11" fill="#c0c0c0" />
<rect x="1245" y="631" width="1" height="9" fill="#c0c0c0" />
<rect x="1253" y="634" width="1" height="6" fill="#c0c0c0" />
<rect x="1261" y="637" width="1" height="3" fill="#c0c0c0" />
<rect x="1269" y="640" width="1" height="1" fill="#c0c0c0" />
<rect x="1277" y="640" width="1" height="8" fill="#c0c0c0" />
<rect x="1285" y="640" width="1" height="16" fill="#c0c0c0" />
<rect x="1293" y="640" width="1" height="26" fill="#c0c0c0" />
<rect x="1301" y="640" width="1" height="33" fill="#c0c0c0" />
<rect x="1309" y="640" width="1" height="38" fill="#c0c0c0" />
<rect x="1317" y="640" width="1" height="41" fill="#c0c0c0" />
<rect x="1325" y="640" width="1" height="44" fill="#c0c0c0" />
<rect x="1333" y="640" width="1" height="41" fill="#c0c0c0" />
<rect x="1341" y="640" width="1" height="38" fill="#c0c0c0" />
<rect x="1349" y="640" width="1" height="39" fill="#c0c0c0" />
<rect x="1357" y="640" width="1" height="40" fill="#c0c0c0" />
<rect x="1365" y="640" width="1" height="38" fill="#c0c0c0" />
<rect x="1373" y="640" width="1" height="34" fill="#c0c0c0" />
<rect x="1381" y="640" width="1" height="25" fill="#c0c0c0" />
<rect x="1389" y="640" width="1" height="20" fill="#c0c0c0" />
<rect x="1397" y="640" width="1" height="18" fill="#c0c0c0" />
<rect x="1405" y="640" width="1" height="16" fill="#c0c0c0" />
<rect x="1413" y="640" width="1" height="15" fill="#c0c0c0" />
<rect x="1421" y="640" width="1" height="14" fill="#c0c0c0" />
<rect x="1429" y="640" width="1" height="13" fill="#c0c0c0" />
<rect x="1437" y="640" width="1" height="9" fill="#c0c0c0" />
<rect x="1445" y="640" width="1" height="8" fill="#c0c0c0" />
<rect x="1453" y="640" width="1" height="7" fill="#c0c0c0" />
<polyline points="0.0,625.0 10.0,620.0 21.3,615.0 32.5,611.8 45.0,608.3 57.5,606.8 70.0,606.3 82.5,607.5 97.5,609.3 112.6,611.8 127.6,616.3 140.1,619.5 152.6,624.5 165.1,629.3 180.1,633.0 195.1,635.8 207.6,640.0 220.1,644.3 227.6,648.8 237.6,661.3 247.6,675.1 260.1,693.8 272.6,708.8 282.6,720.1 292.6,728.8 302.7,733.3 312.7,735.1 325.2,734.1 335.2,732.1 347.7,726.3 360.2,720.1 372.7,713.8 385.2,707.1 395.2,703.8 405.2,702.3 418.5,703.3 424.0,703.1 431.0,705.1 443.5,707.1 456.0,705.1 466.0,700.1 478.5,693.8 491.0,688.1 503.5,681.3 516.1,678.3 526.1,680.1 538.6,686.3 551.1,695.1 563.6,705.1 576.1,717.6 588.6,730.1 601.1,742.6 616.1,753.1 628.6,759.6 636.1,761.3 646.1,763.8 658.6,762.1 671.1,756.3 683.6,746.3 696.1,733.8 706.1,722.6 718.7,710.1 728.7,702.1 741.2,695.1 751.2,693.3 766.2,693.3 776.2,696.3 788.7,701.3 801.2,705.1 813.7,708.8 828.7,713.1 832.0,713.1 840.0,714.6 844.5,715.1 862.0,711.8 877.0,706.3 892.0,698.8 904.5,692.6 917.0,682.6 932.0,668.8 944.6,655.0 957.1,640.0 969.6,627.0 982.1,614.5 994.6,606.8 1007.1,604.3 1019.6,601.8 1032.1,601.5 1047.1,603.5 1062.1,604.5 1074.6,605.8 1092.1,608.3 1102.1,607.5 1114.6,605.0 1127.2,598.3 1139.7,592.5 1152.2,587.5 1164.7,585.5 1174.7,586.3 1187.2,590.0 1199.7,598.0 1212.2,606.3 1224.7,612.5 1237.2,618.8 1240.0,620.0 1247.2,623.0 1252.5,624.5 1256.0,624.5 1267.5,628.8 1282.5,633.8 1295.0,641.3 1307.5,651.3 1320.0,660.0 1332.5,668.8 1345.0,675.0 1357.6,678.8 1370.1,680.6 1382.6,679.3 1395.1,674.6 1410.1,670.1 1425.1,663.8 1440.1,658.0 1452.6,653.8" fill="none" stroke="#ff0000" stroke-width="1" stroke-dasharray="3 3"/>
</g>
<line x1="1341.3" y1="680.6" x2="1445.4" y2="650.9" stroke="#ff0000" stroke-width="2.9"/>
<polygon points="1455.0,648.2 1444.9,656.7 1442.0,646.3" fill="#ff0000"/>
<g clip-path="url(#crsi)">
<line x1="2" y1="812.5" x2="1648" y2="812.5" stroke="#c0c0c0" stroke-width="1" stroke-dasharray="3 3"/>
<line x1="2" y1="854.5" x2="1648" y2="854.5" stroke="#c0c0c0" stroke-width="1" stroke-dasharray="3 3"/>
<line x1="2" y1="903.5" x2="1648" y2="903.5" stroke="#c0c0c0" stroke-width="1" stroke-dasharray="3 3"/>
<polyline points="-3.0,836.0 5.0,834.3 13.0,838.0 21.0,839.5 29.0,836.3 37.0,839.3 45.0,854.3 53.0,847.0 61.0,851.3 69.0,841.8 77.0,840.0 85.0,843.3 93.0,848.0 101.0,849.3 109.0,853.3 117.0,856.8 125.0,864.3 133.0,868.3 141.0,853.3 149.0,853.3 157.0,854.5 165.0,852.5 173.0,847.0 181.0,855.5 189.0,863.8 197.0,871.3 205.0,868.0 213.0,875.8 221.0,883.0 229.0,893.3 237.0,904.3 245.0,877.5 253.0,878.8 261.0,868.3 269.0,868.3 277.0,872.5 285.0,866.3 293.0,867.5 301.0,872.0 309.0,875.5 317.0,869.3 325.0,865.0 333.0,860.5 341.0,861.8 349.0,859.3 357.0,862.5 365.0,858.3 373.0,861.3 381.0,871.3 389.0,876.3 397.0,871.3 405.0,873.8 413.0,877.5 421.0,868.3 429.0,870.5 437.0,857.0 445.0,853.3 453.0,854.3 461.0,854.3 469.0,858.3 477.0,864.3 485.0,865.5 493.0,861.3 501.0,864.3 509.0,866.3 517.0,872.5 525.0,883.0 533.0,883.3 541.0,884.3 549.0,884.3 557.0,885.5 565.0,889.3 573.0,893.0 581.0,896.8 589.0,893.0 597.0,889.3 605.0,893.3 613.0,883.3 621.0,884.3 629.0,885.3 637.0,886.8 645.0,883.3 653.0,881.3 661.0,866.3 669.0,864.3 677.0,857.5 685.0,856.3 693.0,861.3 701.0,853.3 709.0,861.3 717.0,867.5 725.0,875.3 733.0,873.3 741.0,875.0 749.0,879.3 757.0,867.0 765.0,870.8 773.0,879.5 781.0,876.3 789.0,881.3 797.0,873.3 805.0,876.8 813.0,869.5 821.0,876.3 829.0,874.3 837.0,864.5 845.0,867.5 853.0,862.5 861.0,858.3 869.0,862.0 877.0,863.5 885.0,861.3 893.0,864.5 901.0,849.3 909.0,849.3 917.0,837.0 925.0,841.3 933.0,838.0 941.0,834.3 949.0,830.3 957.0,843.3 965.0,844.5 973.0,843.3 981.0,843.3 989.0,844.5 997.0,852.5 1005.0,842.5 1013.0,839.3 1021.0,847.0 1029.0,847.5 1037.0,849.3 1045.0,852.5 1053.0,838.3 1061.0,849.3 1069.0,847.0 1077.0,851.8 1085.0,855.5 1093.0,838.3 1101.0,832.5 1109.0,832.5 1117.0,831.3 1125.0,828.0 1133.0,836.3 1141.0,849.3 1149.0,849.3 1157.0,849.3 1165.0,850.5 1173.0,854.3 1181.0,856.3 1189.0,851.8 1197.0,856.3 1205.0,854.5 1213.0,853.5 1221.0,850.5 1229.0,855.5 1237.0,852.5 1245.0,854.3 1253.0,857.5 1261.0,861.3 1269.0,866.3 1277.0,869.5 1285.0,877.0 1293.0,882.5 1301.0,880.0 1309.0,878.3 1317.0,879.5 1325.0,880.5 1333.0,862.0 1341.0,862.0 1349.0,871.3 1357.0,873.3 1365.0,867.5 1373.0,858.8 1381.0,848.0 1389.0,851.3 1397.0,855.8 1405.0,855.0 1413.0,862.5 1421.0,855.0 1429.0,858.8 1437.0,850.0 1445.0,851.3 1453.0,856.8" fill="none" stroke="#1e90ff" stroke-width="1" />
</g>
<line x1="1367.6" y1="856.3" x2="1441.4" y2="853.0" stroke="#ff0000" stroke-width="2.9"/>
<polygon points="1451.4,852.5 1439.7,858.4 1439.2,847.6" fill="#ff0000"/>
<rect x="0" y="24" width="1649" height="1" fill="#000" />
<rect x="1648" y="24" width="1" height="902" fill="#000" />
<rect x="0" y="559" width="1649" height="1" fill="#000" />
<rect x="0" y="561" width="1649" height="1" fill="#000" />
<rect x="0" y="780" width="1649" height="1" fill="#000" />
<rect x="0" y="782" width="1649" height="1" fill="#000" />
<rect x="0" y="925" width="1649" height="1" fill="#000" />
<rect x="1694" y="21" width="1" height="919" fill="#e0e0e0" />
<rect x="1649" y="28" width="2" height="1" fill="#000" />
<text x="1654.2" y="31.8" font-size="9.3" fill="#000" text-anchor="start" font-weight="normal"  stroke="#000" stroke-width="0.25">1.36710</text>
<rect x="1649" y="61" width="2" height="1" fill="#000" />
<text x="1654.2" y="64.8" font-size="9.3" fill="#000" text-anchor="start" font-weight="normal"  stroke="#000" stroke-width="0.25">1.36280</text>
<rect x="1649" y="94" width="2" height="1" fill="#000" />
<text x="1654.2" y="97.8" font-size="9.3" fill="#000" text-anchor="start" font-weight="normal"  stroke="#000" stroke-width="0.25">1.35850</text>
<rect x="1649" y="127" width="2" height="1" fill="#000" />
<text x="1654.2" y="130.8" font-size="9.3" fill="#000" text-anchor="start" font-weight="normal"  stroke="#000" stroke-width="0.25">1.35420</text>
<rect x="1649" y="160" width="2" height="1" fill="#000" />
<text x="1654.2" y="163.8" font-size="9.3" fill="#000" text-anchor="start" font-weight="normal"  stroke="#000" stroke-width="0.25">1.34990</text>
<rect x="1649" y="193" width="2" height="1" fill="#000" />
<text x="1654.2" y="196.8" font-size="9.3" fill="#000" text-anchor="start" font-weight="normal"  stroke="#000" stroke-width="0.25">1.34570</text>
<rect x="1649" y="226" width="2" height="1" fill="#000" />
<text x="1654.2" y="229.8" font-size="9.3" fill="#000" text-anchor="start" font-weight="normal"  stroke="#000" stroke-width="0.25">1.34140</text>
<rect x="1649" y="259" width="2" height="1" fill="#000" />
<text x="1654.2" y="262.8" font-size="9.3" fill="#000" text-anchor="start" font-weight="normal"  stroke="#000" stroke-width="0.25">1.33710</text>
<rect x="1649" y="292" width="2" height="1" fill="#000" />
<text x="1654.2" y="295.8" font-size="9.3" fill="#000" text-anchor="start" font-weight="normal"  stroke="#000" stroke-width="0.25">1.33280</text>
<rect x="1649" y="325" width="2" height="1" fill="#000" />
<text x="1654.2" y="328.8" font-size="9.3" fill="#000" text-anchor="start" font-weight="normal"  stroke="#000" stroke-width="0.25">1.32860</text>
<rect x="1649" y="358" width="2" height="1" fill="#000" />
<text x="1654.2" y="361.8" font-size="9.3" fill="#000" text-anchor="start" font-weight="normal"  stroke="#000" stroke-width="0.25">1.32430</text>
<rect x="1649" y="391" width="2" height="1" fill="#000" />
<text x="1654.2" y="394.8" font-size="9.3" fill="#000" text-anchor="start" font-weight="normal"  stroke="#000" stroke-width="0.25">1.32000</text>
<rect x="1649" y="424" width="2" height="1" fill="#000" />
<text x="1654.2" y="427.8" font-size="9.3" fill="#000" text-anchor="start" font-weight="normal"  stroke="#000" stroke-width="0.25">1.31570</text>
<rect x="1649" y="457" width="2" height="1" fill="#000" />
<text x="1654.2" y="460.8" font-size="9.3" fill="#000" text-anchor="start" font-weight="normal"  stroke="#000" stroke-width="0.25">1.31140</text>
<rect x="1649" y="490" width="2" height="1" fill="#000" />
<text x="1654.2" y="493.8" font-size="9.3" fill="#000" text-anchor="start" font-weight="normal"  stroke="#000" stroke-width="0.25">1.30720</text>
<rect x="1649" y="523" width="2" height="1" fill="#000" />
<text x="1654.2" y="526.8" font-size="9.3" fill="#000" text-anchor="start" font-weight="normal"  stroke="#000" stroke-width="0.25">1.30290</text>
<rect x="1649" y="556" width="2" height="1" fill="#000" />
<text x="1654.2" y="559.8" font-size="9.3" fill="#000" text-anchor="start" font-weight="normal"  stroke="#000" stroke-width="0.25">1.29860</text>
<rect x="1650" y="376" width="41" height="11" fill="#ff4500" />
<text x="1654.2" y="384.8" font-size="9.3" fill="#fff" text-anchor="start" font-weight="normal"  stroke="#fff" stroke-width="0.25">1.32120</text>
<rect x="1650" y="410" width="41" height="11" fill="#ff0000" />
<text x="1654.2" y="418.8" font-size="9.3" fill="#fff" text-anchor="start" font-weight="normal"  stroke="#fff" stroke-width="0.25">1.31680</text>
<rect x="1650" y="437" width="41" height="11" fill="#000000" />
<text x="1654.2" y="445.8" font-size="9.3" fill="#fff" text-anchor="start" font-weight="normal"  stroke="#fff" stroke-width="0.25">1.31327</text>
<rect x="1650" y="451" width="41" height="11" fill="#32cd32" />
<text x="1654.2" y="459.8" font-size="9.3" fill="#fff" text-anchor="start" font-weight="normal"  stroke="#fff" stroke-width="0.25">1.31150</text>
<rect x="1650" y="480" width="41" height="11" fill="#0000ff" />
<text x="1654.2" y="488.8" font-size="9.3" fill="#fff" text-anchor="start" font-weight="normal"  stroke="#fff" stroke-width="0.25">1.30775</text>
<rect x="1650" y="510" width="41" height="11" fill="#0000ff" />
<text x="1654.2" y="518.8" font-size="9.3" fill="#fff" text-anchor="start" font-weight="normal"  stroke="#fff" stroke-width="0.25">1.30386</text>
<rect x="1649" y="563" width="1" height="1" fill="#000" />
<text x="1652.2" y="571.8" font-size="9.3" fill="#000" text-anchor="start" font-weight="normal"  stroke="#000" stroke-width="0.25">0.004144</text>
<rect x="1649" y="639" width="2" height="1" fill="#000" />
<text x="1652.5" y="643" font-size="9.3" fill="#000" text-anchor="start" font-weight="normal"  stroke="#000" stroke-width="0.25">0.00</text>
<rect x="1649" y="779" width="1" height="1" fill="#000" />
<text x="1652.3" y="777" font-size="9.3" fill="#000" text-anchor="start" font-weight="normal"  stroke="#000" stroke-width="0.25">-0.007664</text>
<rect x="1649" y="784" width="1" height="1" fill="#000" />
<rect x="1648" y="560" width="1" height="1" fill="#fff" />
<rect x="1648" y="781" width="1" height="1" fill="#fff" />
<text x="1652.2" y="793.3" font-size="9.3" fill="#000" text-anchor="start" font-weight="normal"  stroke="#000" stroke-width="0.25">100</text>
<text x="1650.9" y="815.8" font-size="9.3" fill="#000" text-anchor="start" font-weight="normal"  stroke="#000" stroke-width="0.25">80</text>
<text x="1650.9" y="857.8" font-size="9.3" fill="#000" text-anchor="start" font-weight="normal"  stroke="#000" stroke-width="0.25">50</text>
<text x="1651.4" y="906.6" font-size="9.3" fill="#000" text-anchor="start" font-weight="normal"  stroke="#000" stroke-width="0.25">15</text>
<text x="1651.6" y="921.6" font-size="9.3" fill="#000" text-anchor="start" font-weight="normal"  stroke="#000" stroke-width="0.25">0</text>
<rect x="-11" y="926" width="1" height="3" fill="#000" />
<text x="-11.9" y="937.6" font-size="9.3" fill="#000" text-anchor="start" font-weight="normal"  stroke="#000" stroke-width="0.25">17 Feb 2022</text>
<rect x="53" y="926" width="1" height="3" fill="#000" />
<text x="52.1" y="937.6" font-size="9.3" fill="#000" text-anchor="start" font-weight="normal"  stroke="#000" stroke-width="0.25">18 Feb 16:00</text>
<rect x="117" y="926" width="1" height="3" fill="#000" />
<text x="116.1" y="937.6" font-size="9.3" fill="#000" text-anchor="start" font-weight="normal"  stroke="#000" stroke-width="0.25">22 Feb 00:00</text>
<rect x="181" y="926" width="1" height="3" fill="#000" />
<text x="180.1" y="937.6" font-size="9.3" fill="#000" text-anchor="start" font-weight="normal"  stroke="#000" stroke-width="0.25">23 Feb 08:00</text>
<rect x="245" y="926" width="1" height="3" fill="#000" />
<text x="244.1" y="937.6" font-size="9.3" fill="#000" text-anchor="start" font-weight="normal"  stroke="#000" stroke-width="0.25">24 Feb 16:00</text>
<rect x="309" y="926" width="1" height="3" fill="#000" />
<text x="308.1" y="937.6" font-size="9.3" fill="#000" text-anchor="start" font-weight="normal"  stroke="#000" stroke-width="0.25">28 Feb 00:00</text>
<rect x="373" y="926" width="1" height="3" fill="#000" />
<text x="372.1" y="937.6" font-size="9.3" fill="#000" text-anchor="start" font-weight="normal"  stroke="#000" stroke-width="0.25">1 Mar 08:00</text>
<rect x="437" y="926" width="1" height="3" fill="#000" />
<text x="436.1" y="937.6" font-size="9.3" fill="#000" text-anchor="start" font-weight="normal"  stroke="#000" stroke-width="0.25">2 Mar 16:00</text>
<rect x="501" y="926" width="1" height="3" fill="#000" />
<text x="500.1" y="937.6" font-size="9.3" fill="#000" text-anchor="start" font-weight="normal"  stroke="#000" stroke-width="0.25">4 Mar 00:00</text>
<rect x="565" y="926" width="1" height="3" fill="#000" />
<text x="564.1" y="937.6" font-size="9.3" fill="#000" text-anchor="start" font-weight="normal"  stroke="#000" stroke-width="0.25">7 Mar 08:00</text>
<rect x="629" y="926" width="1" height="3" fill="#000" />
<text x="628.1" y="937.6" font-size="9.3" fill="#000" text-anchor="start" font-weight="normal"  stroke="#000" stroke-width="0.25">8 Mar 16:00</text>
<rect x="693" y="926" width="1" height="3" fill="#000" />
<text x="692.1" y="937.6" font-size="9.3" fill="#000" text-anchor="start" font-weight="normal"  stroke="#000" stroke-width="0.25">10 Mar 00:00</text>
<rect x="757" y="926" width="1" height="3" fill="#000" />
<text x="756.1" y="937.6" font-size="9.3" fill="#000" text-anchor="start" font-weight="normal"  stroke="#000" stroke-width="0.25">11 Mar 08:00</text>
<rect x="821" y="926" width="1" height="3" fill="#000" />
<text x="820.1" y="937.6" font-size="9.3" fill="#000" text-anchor="start" font-weight="normal"  stroke="#000" stroke-width="0.25">14 Mar 16:00</text>
<rect x="885" y="926" width="1" height="3" fill="#000" />
<text x="884.1" y="937.6" font-size="9.3" fill="#000" text-anchor="start" font-weight="normal"  stroke="#000" stroke-width="0.25">16 Mar 00:00</text>
<rect x="949" y="926" width="1" height="3" fill="#000" />
<text x="948.1" y="937.6" font-size="9.3" fill="#000" text-anchor="start" font-weight="normal"  stroke="#000" stroke-width="0.25">17 Mar 08:00</text>
<rect x="1013" y="926" width="1" height="3" fill="#000" />
<text x="1012.1" y="937.6" font-size="9.3" fill="#000" text-anchor="start" font-weight="normal"  stroke="#000" stroke-width="0.25">18 Mar 16:00</text>
<rect x="1077" y="926" width="1" height="3" fill="#000" />
<text x="1076.1" y="937.6" font-size="9.3" fill="#000" text-anchor="start" font-weight="normal"  stroke="#000" stroke-width="0.25">22 Mar 00:00</text>
<rect x="1141" y="926" width="1" height="3" fill="#000" />
<text x="1140.1" y="937.6" font-size="9.3" fill="#000" text-anchor="start" font-weight="normal"  stroke="#000" stroke-width="0.25">23 Mar 08:00</text>
<rect x="1205" y="926" width="1" height="3" fill="#000" />
<text x="1204.1" y="937.6" font-size="9.3" fill="#000" text-anchor="start" font-weight="normal"  stroke="#000" stroke-width="0.25">24 Mar 16:00</text>
<rect x="1269" y="926" width="1" height="3" fill="#000" />
<text x="1268.1" y="937.6" font-size="9.3" fill="#000" text-anchor="start" font-weight="normal"  stroke="#000" stroke-width="0.25">28 Mar 00:00</text>
<rect x="1333" y="926" width="1" height="3" fill="#000" />
<text x="1332.1" y="937.6" font-size="9.3" fill="#000" text-anchor="start" font-weight="normal"  stroke="#000" stroke-width="0.25">29 Mar 08:00</text>
<rect x="1397" y="926" width="1" height="3" fill="#000" />
<text x="1396.1" y="937.6" font-size="9.3" fill="#000" text-anchor="start" font-weight="normal"  stroke="#000" stroke-width="0.25">30 Mar 16:00</text>
<text x="4" y="35.6" font-size="9.3" fill="#000" text-anchor="start" font-weight="normal"  stroke="#000" stroke-width="0.25">GBPUSD-,H4</text>
<text x="67" y="35.6" font-size="9.3" fill="#000" text-anchor="start" font-weight="normal"  stroke="#000" stroke-width="0.25">1.31361 1.31464 1.31327 1.31327</text>
<text x="-5.3" y="573.6" font-size="9.3" fill="#000" text-anchor="start" font-weight="normal"  stroke="#000" stroke-width="0.25">MACD(12,26,9) -0.000453 -0.000815</text>
<text x="-7.2" y="794.6" font-size="9.3" fill="#000" text-anchor="start" font-weight="normal"  stroke="#000" stroke-width="0.25">RSI(14) 48.8350</text>
<polygon points="1460,25 1469,25 1464.5,29.8" fill="#c0c0c0"/>
<rect x="0" y="44" width="212" height="57" fill="#fff" />
<rect x="0" y="44" width="44" height="24" fill="url(#gbtn)" />
<rect x="0" y="67" width="40" height="1" fill="#5a5ae4" />
<rect x="159" y="44" width="52" height="24" fill="url(#gbtn)" />
<rect x="163" y="67" width="44" height="1" fill="#8c8cf4" />
<rect x="0" y="68" width="101" height="33" fill="url(#gprice)" />
<rect x="103" y="68" width="108" height="33" fill="url(#gprice)" />
<rect x="46" y="44" width="111" height="22" fill="#b8b8b8" />
<rect x="47" y="45" width="109" height="20" fill="#fff" />
<rect x="47" y="46" width="20" height="19" fill="url(#gspin)" />
<rect x="67" y="45" width="1" height="20" fill="#c8c8c8" />
<rect x="136" y="46" width="20" height="19" fill="url(#gspin)" />
<rect x="135" y="45" width="1" height="20" fill="#c8c8c8" />
<polygon points="54,53.4 59.4,53.4 56.7,56.2" fill="#5a6ac4" shape-rendering="geometricPrecision"/>
<polygon points="143,56 148.4,56 145.7,53.2" fill="#5a6ac4" shape-rendering="geometricPrecision"/>
<text x="131.5" y="59" font-size="12" fill="#222" text-anchor="end" font-weight="normal" >1.00</text>
<text x="4.5" y="59.8" font-size="12" fill="#ececff" text-anchor="start" font-weight="normal" textLength="25.6" lengthAdjust="spacingAndGlyphs">SELL</text>
<text x="172.5" y="59.8" font-size="12" fill="#ececff" text-anchor="start" font-weight="normal" textLength="23.4" lengthAdjust="spacingAndGlyphs">BUY</text>
<text x="12.5" y="96" font-size="12" fill="#fff" text-anchor="start" font-weight="bold" >1.31</text>
<text x="39.3" y="96.2" font-size="32.6" fill="#fff" text-anchor="start" font-weight="300" style='font-family:"Noto Sans CJK SC", "Liberation Sans", sans-serif' textLength="35.4" lengthAdjust="spacingAndGlyphs">32</text>
<text x="79.3" y="79.8" font-size="11" fill="#fff" text-anchor="start" font-weight="bold" >7</text>
<text x="122.3" y="96" font-size="12" fill="#fff" text-anchor="start" font-weight="bold" >1.31</text>
<text x="148.9" y="96.2" font-size="32.6" fill="#fff" text-anchor="start" font-weight="300" style='font-family:"Noto Sans CJK SC", "Liberation Sans", sans-serif' textLength="36.6" lengthAdjust="spacingAndGlyphs">42</text>
<text x="190.5" y="79.8" font-size="11" fill="#fff" text-anchor="start" font-weight="bold" >1</text>
<rect x="0" y="0" width="1695" height="19" fill="#f0f0f0" />
<rect x="0" y="19" width="1695" height="1" fill="#fcfcfc" />
<rect x="0" y="20" width="1695" height="1" fill="#a0a0a0" />
<rect x="0" y="21" width="1695" height="1" fill="#696969" />
<rect x="284" y="0" width="24" height="19" fill="#f8f8f8" />
<rect x="436" y="0" width="24" height="19" fill="#f8f8f8" />
<rect x="464" y="0" width="24" height="19" fill="#f8f8f8" />
<rect x="624" y="0" width="24" height="19" fill="#f8f8f8" />
<rect x="1070" y="0" width="24" height="19" fill="#f8f8f8" />
<rect x="1069" y="0" width="1" height="19" fill="#808080" />
<g shape-rendering="geometricPrecision">
<path d="M0,14 L1.5,15.5 L0,17 Z" fill="#c8961e"/>
<path d="M19.5,0 L27.5,0 L30.5,3 L30.5,14.5 L19.5,14.5 Z" fill="#fdfdfd" stroke="#8a8a8a" stroke-width="1"/>
<path d="M21.5,3.5 h4 M21.5,6.5 h6 M21.5,9.5 h3" stroke="#9a9a9a" stroke-width="1" fill="none"/>
<path d="M27.2,6.5 h3.6 v4.2 h4.2 v3.6 h-4.2 v4.2 h-3.6 v-4.2 h-4.2 v-3.6 h4.2 Z" fill="url(#ggreen)" stroke="#0a8a0a" stroke-width="0.8"/>
<path d="M91.7,0.8 L101,7 L102.3,9.8 L94.4,16.1 L85.8,9.9 L88.6,7.4 Z" fill="#a86c0a"/>
<path d="M94.5,13.1 L100.6,7.6 L101.6,9.7 L94.5,15.4 Z" fill="#d8c68a"/>
<path d="M86.6,9.9 L88.5,8.4 L94.4,12.9 L94.4,15.3 Z" fill="#e0a01c"/>
<path d="M87.4,9.7 L88.5,8.9 L94.2,13.3 L94.2,14 Z" fill="#f6d878"/>
<path d="M92,1.9 L100.1,7.3 L94.4,12.5 L88.9,8.2 C90.4,6.4 91.4,4.4 92,1.9 Z" fill="url(#ggold)"/>
<path d="M116.2,0 L127,0 L127,9.5 L116.2,9.5 Z" fill="#1a9af2"/>
<path d="M116.2,0 H127 V1 H116.2 Z" fill="#7a7ad0"/>
<path d="M119.6,1.2 V9" stroke="#e8f6ff" stroke-width="0.9"/>
<path d="M121.4,5.2 H125.6" stroke="#f4faff" stroke-width="1.3"/>
<path d="M121.4,7.6 H125.6" stroke="#5abcf8" stroke-width="1"/>
<path d="M117.3,15.6 a3.2,3.2 0 0 1 -0.4,-6.3 a2.6,2.6 0 0 1 3.6,-0.8 a3.2,3.2 0 0 1 5.4,0.6 a2.2,2.2 0 0 1 2.6,1.2 a2.7,2.7 0 0 1 -1,5.3 Z" fill="url(#gcloud)" stroke="#3e5e9e" stroke-width="0.9"/>
<path d="M150.4,8 L150.4,16.2 A8.2,8.2 0 0 0 158.3,8.6 Z" fill="url(#gsweep)" opacity="0.85"/>
<circle cx="150.1" cy="8" r="7.8" fill="none" stroke="#9db4e6" stroke-width="1" stroke-dasharray="2.2 1"/>
<circle cx="150.1" cy="8" r="5" fill="none" stroke="#a8bcec" stroke-width="1" stroke-dasharray="2 1"/>
<path d="M150.1,0.2 A7.8,7.8 0 0 0 150.1,15.8" fill="none" stroke="#4a6ed8" stroke-width="1" stroke-dasharray="2.2 1"/>
<circle cx="150.1" cy="8" r="1.9" fill="#2a50d0"/>
<path d="M150.6,8 V16.2" stroke="#22a022" stroke-width="1.3"/>
<path d="M169.8,6.6 L184.4,6.6 L177.2,15.9 Z" fill="#f8d84a" stroke="#c8981a" stroke-width="0.8"/>
<path d="M171.5,7.4 L177,7.4 L177,14.6 Z" fill="#fdf09a"/>
<ellipse cx="176.9" cy="5" rx="8" ry="2.4" fill="#48a4dc" stroke="#1f7cae" stroke-width="0.8"/>
<path d="M173,4.6 C173,-1.6 180.8,-1.6 180.8,4.6 C178.4,5.6 175.4,5.6 173,4.6 Z" fill="#6cbcec" stroke="#1f7cae" stroke-width="0.7"/>
<circle cx="181.4" cy="11.7" r="4.2" fill="#dc2410"/>
<circle cx="181.4" cy="11.7" r="3.3" fill="none" stroke="#f04a30" stroke-width="0.8"/>
<rect x="179.8" y="10.1" width="3.2" height="3.2" fill="#fff"/>
<path d="M263.5,3 V16 M260.6,13.5 H274" stroke="#505050" stroke-width="1.2" fill="none"/>
<path d="M262,4.2 L263.5,1.8 L265,4.2 Z M273.2,12 L275.2,13.5 L273.2,15 Z" fill="#505050" stroke="#505050" stroke-width="0.5"/>
<path d="M269.6,3.2 V11.8 M269.6,4.6 H272.3 M267,10.4 H269.6" stroke="#0a8a0a" stroke-width="1.3" fill="none"/>
<path d="M291.5,3 V16 M288.6,13.5 H302" stroke="#505050" stroke-width="1.2" fill="none"/>
<path d="M290,4.2 L291.5,1.8 L293,4.2 Z M301.2,12 L303.2,13.5 L301.2,15 Z" fill="#505050" stroke="#505050" stroke-width="0.5"/>
<path d="M297.5,0 V12" stroke="#0a7a0a" stroke-width="1"/>
<rect x="295.5" y="2.5" width="4" height="7.5" fill="#30d030" stroke="#0a8a0a" stroke-width="0.9"/>
<path d="M319.5,3 V16 M316.6,13.5 H330" stroke="#505050" stroke-width="1.2" fill="none"/>
<path d="M318,4.2 L319.5,1.8 L321,4.2 Z M329.2,12 L331.2,13.5 L329.2,15 Z" fill="#505050" stroke="#505050" stroke-width="0.5"/>
<path d="M318.2,10.8 C321,7 322.6,5.2 324.2,5.2 C326,5.2 327.6,8.2 330,9.2" stroke="#2a9a2a" stroke-width="1.2" fill="none"/>
<path d="M358.8,9.8 L363.2,14.3" stroke="#b48a10" stroke-width="3.4" stroke-linecap="butt"/>
<path d="M358.8,9.8 L363.2,14.3" stroke="#f4d83c" stroke-width="1.6" stroke-linecap="butt"/>
<circle cx="355" cy="6" r="5.6" fill="url(#glens)" stroke="#2f7cc4" stroke-width="1.3"/>
<path d="M352,6 H358" stroke="#3a86b8" stroke-width="1.7"/>
<path d="M355,3 V9" stroke="#3a86b8" stroke-width="1.7"/>
<path d="M386.8,9.8 L391.2,14.3" stroke="#b48a10" stroke-width="3.4" stroke-linecap="butt"/>
<path d="M386.8,9.8 L391.2,14.3" stroke="#f4d83c" stroke-width="1.6" stroke-linecap="butt"/>
<circle cx="383" cy="6" r="5.6" fill="url(#glens)" stroke="#2f7cc4" stroke-width="1.3"/>
<path d="M380,6 H386" stroke="#3a86b8" stroke-width="1.7"/>
<rect x="405" y="0" width="7.9" height="7.8" rx="0.8" fill="#2f9e1e"/>
<rect x="406.2" y="3.2" width="5.6" height="3.4" fill="#fbfdff"/>
<rect x="407.2" y="4.1" width="3.6" height="0.9" fill="#bfe6b0"/>
<rect x="406.3" y="1.2" width="0.9" height="0.9" fill="#bfe6b0"/>
<rect x="413.2" y="0" width="7.9" height="7.8" rx="0.8" fill="#1c48d2"/>
<rect x="414.4" y="3.2" width="5.6" height="3.4" fill="#fbfdff"/>
<rect x="415.4" y="4.1" width="3.6" height="0.9" fill="#b0c4f4"/>
<rect x="414.5" y="1.2" width="0.9" height="0.9" fill="#b0c4f4"/>
<rect x="405" y="8.1" width="7.9" height="7.8" rx="0.8" fill="#1c48d2"/>
<rect x="406.2" y="11.3" width="5.6" height="3.4" fill="#fbfdff"/>
<rect x="407.2" y="12.2" width="3.6" height="0.9" fill="#b0c4f4"/>
<rect x="406.3" y="9.299999999999999" width="0.9" height="0.9" fill="#b0c4f4"/>
<rect x="413.2" y="8.1" width="7.9" height="7.8" rx="0.8" fill="#2f9e1e"/>
<rect x="414.4" y="11.3" width="5.6" height="3.4" fill="#fbfdff"/>
<rect x="415.4" y="12.2" width="3.6" height="0.9" fill="#bfe6b0"/>
<rect x="414.5" y="9.299999999999999" width="0.9" height="0.9" fill="#bfe6b0"/>
<path d="M443.5,3 V16 M440.6,13.5 H454" stroke="#505050" stroke-width="1.2" fill="none"/>
<path d="M442,4.2 L443.5,1.8 L445,4.2 Z M453.2,12 L455.2,13.5 L453.2,15 Z" fill="#505050" stroke="#505050" stroke-width="0.5"/>
<path d="M448,4.5 L452.5,7.8 L448,11 Z" fill="#e8ffe8" stroke="#18a018" stroke-width="1.1"/>
<path d="M471.5,3 V16 M468.6,13.5 H482" stroke="#505050" stroke-width="1.2" fill="none"/>
<path d="M470,4.2 L471.5,1.8 L473,4.2 Z M481.2,12 L483.2,13.5 L481.2,15 Z" fill="#505050" stroke="#505050" stroke-width="0.5"/>
<path d="M477.5,2 V12.5" stroke="#1a5a9a" stroke-width="1.2"/>
<path d="M483.5,7.6 H479 M481,5.6 L478.6,7.6 L481,9.6" stroke="#d84010" stroke-width="1.2" fill="none"/>
<path d="M502.5,0.5 L510,0.5 L513.5,4 L513.5,13.2 L502.5,13.2 Z" fill="#fdfdfd" stroke="#8a8a8a" stroke-width="1"/>
<path d="M510,0.5 V4 H513.5" fill="none" stroke="#9a9a9a" stroke-width="0.8"/>
<path d="M508,3 C506,2.6 505.6,3.6 505.6,5 V10.4 M504.4,6.2 H507.4" stroke="#505050" stroke-width="1" fill="none"/>
<path d="M510.3,6.2 h3.5 v4 h4 v3.5 h-4 v4 h-3.5 v-4 h-4 v-3.5 h4 Z" fill="url(#ggreen)" stroke="#0a8a0a" stroke-width="0.8"/>
<rect x="546.6" y="-1" width="2.4" height="2" fill="#2a68c0"/>
<circle cx="547.8" cy="7.8" r="6.5" fill="#fbfdff" stroke="url(#gring)" stroke-width="2.5"/>
<path d="M547.8,3.6 V8 L551,9.2" stroke="#303030" stroke-width="1.1" fill="none"/>
<path d="M547.8,11.4 v0.9 M544.2,7.8 h0.9 M551.4,7.8 h-0.5" stroke="#8aa8d0" stroke-width="0.8"/>
<rect x="579.6" y="1.4" width="15" height="13.2" fill="#fafcff" stroke="#3a78d0" stroke-width="1.1"/>
<rect x="579.6" y="1.4" width="15" height="2.3" fill="#5a98e0"/>
<path d="M580,9.2 H594.4" stroke="#4a88d8" stroke-width="0.9"/>
<path d="M581.4,7.2 L583.4,7.2 L585.2,5.8 L587,6.6 L589.4,5.4 L591,6.4 L593.2,5.2" stroke="#a82408" stroke-width="1.1" fill="none"/>
<path d="M581.6,12.8 L583.6,12 L585.4,12.8 L587.4,11.8 L589.6,10.4 L591.2,11.6 L593,12.8" stroke="#1a8a22" stroke-width="1.1" fill="none"/>
<path d="M631.3,1 L631.3,12.6 L634,10.2 L636.2,15.2 L638.2,14.3 L636,9.5 L639.6,9.2 Z" fill="#404040"/>
<path d="M663.5,1.2 V6.6 M663.5,10.4 V16 M656,8.5 H661.6 M665.4,8.5 H671" stroke="#505050" stroke-width="1.1"/>
<path d="M697.5,1.8 V14.8" stroke="#505050" stroke-width="1.2"/>
<path d="M719.6,8.5 H732.2" stroke="#505050" stroke-width="1.2"/>
<path d="M748,14.8 L760,3" stroke="#505050" stroke-width="1.2"/>
<path d="M774,11 L786,1 M776,14.5 L788,4.5 M777.5,8 L779,13 M781,5 L782.5,10 M784.5,2 L786,7.5" stroke="#505050" stroke-width="1" fill="none"/>
<path d="M803,1.5 H816" stroke="#505050" stroke-width="1" stroke-dasharray="1 1"/>
<path d="M803,4.5 H816" stroke="#505050" stroke-width="1" stroke-dasharray="1 1"/>
<path d="M803,8.5 H816" stroke="#505050" stroke-width="1" stroke-dasharray="1 1"/>
<path d="M803,12.5 H816" stroke="#505050" stroke-width="1" stroke-dasharray="1 1"/>
<rect x="860" y="2" width="11.5" height="12.5" fill="none" stroke="#505050" stroke-width="1" stroke-dasharray="1 1"/>
<path d="M887.5,5.5 L891,2 L894.5,5.5 L891,7.5 Z M894,11.5 L897.5,9.5 L901,11.5 L897.5,15 Z" fill="#505050"/>
<path d="M889.5,9 L892,11.5 L896.5,6.5" stroke="#505050" stroke-width="1.2" fill="none"/>
<circle cx="1650.6" cy="5.4" r="3.6" fill="#f4f6fb" stroke="#2a5ad0" stroke-width="1.3"/>
<path d="M1647.6,8.6 L1643,13" stroke="#2a5ad0" stroke-width="2.2" stroke-linecap="round"/>
<path d="M1667.2,10 a5.3,4.4 0 1 1 5.3,4.4 L1670.6,16.3 L1670.8,13.9 A5.3,4.4 0 0 1 1667.2,10 Z" fill="#e4e6ee" stroke="#b8b8b8" stroke-width="0.8"/>
<circle cx="1681.4" cy="5.6" r="8" fill="url(#gred)"/>
</g>
<polygon points="523.8,7 529.3,7 526.55,10" fill="#000"/>
<polygon points="562.6999999999999,7 568.1999999999999,7 565.4499999999999,10" fill="#000"/>
<polygon points="601.6999999999999,7 607.1999999999999,7 604.4499999999999,10" fill="#000"/>
<polygon points="907.6999999999999,7 913.1999999999999,7 910.4499999999999,10" fill="#000"/>
<rect x="9" y="0" width="1" height="18" fill="#a0a0a0" />
<rect x="10" y="0" width="1" height="18" fill="#fafafa" />
<rect x="245" y="0" width="1" height="20" fill="#a0a0a0" />
<rect x="246" y="0" width="1" height="20" fill="#fafafa" />
<rect x="249" y="1" width="3" height="1" fill="#a8a8a8" />
<rect x="249" y="3" width="3" height="1" fill="#a8a8a8" />
<rect x="249" y="5" width="3" height="1" fill="#a8a8a8" />
<rect x="249" y="7" width="3" height="1" fill="#a8a8a8" />
<rect x="249" y="9" width="3" height="1" fill="#a8a8a8" />
<rect x="249" y="11" width="3" height="1" fill="#a8a8a8" />
<rect x="249" y="13" width="3" height="1" fill="#a8a8a8" />
<rect x="249" y="15" width="3" height="1" fill="#a8a8a8" />
<rect x="283" y="0" width="1" height="18" fill="#a0a0a0" />
<rect x="284" y="0" width="1" height="18" fill="#fafafa" />
<rect x="340" y="0" width="1" height="18" fill="#a0a0a0" />
<rect x="341" y="0" width="1" height="18" fill="#fafafa" />
<rect x="430" y="0" width="1" height="18" fill="#a0a0a0" />
<rect x="431" y="0" width="1" height="18" fill="#fafafa" />
<rect x="435" y="0" width="1" height="18" fill="#a0a0a0" />
<rect x="436" y="0" width="1" height="18" fill="#fafafa" />
<rect x="463" y="0" width="1" height="18" fill="#a0a0a0" />
<rect x="464" y="0" width="1" height="18" fill="#fafafa" />
<rect x="492" y="0" width="1" height="18" fill="#a0a0a0" />
<rect x="493" y="0" width="1" height="18" fill="#fafafa" />
<rect x="613" y="0" width="1" height="20" fill="#a0a0a0" />
<rect x="614" y="0" width="1" height="20" fill="#fafafa" />
<rect x="617" y="1" width="3" height="1" fill="#a8a8a8" />
<rect x="617" y="3" width="3" height="1" fill="#a8a8a8" />
<rect x="617" y="5" width="3" height="1" fill="#a8a8a8" />
<rect x="617" y="7" width="3" height="1" fill="#a8a8a8" />
<rect x="617" y="9" width="3" height="1" fill="#a8a8a8" />
<rect x="617" y="11" width="3" height="1" fill="#a8a8a8" />
<rect x="617" y="13" width="3" height="1" fill="#a8a8a8" />
<rect x="617" y="15" width="3" height="1" fill="#a8a8a8" />
<rect x="623" y="0" width="1" height="18" fill="#a0a0a0" />
<rect x="624" y="0" width="1" height="18" fill="#fafafa" />
<rect x="680" y="0" width="1" height="18" fill="#a0a0a0" />
<rect x="681" y="0" width="1" height="18" fill="#fafafa" />
<rect x="919" y="0" width="1" height="20" fill="#a0a0a0" />
<rect x="920" y="0" width="1" height="20" fill="#fafafa" />
<rect x="923" y="1" width="3" height="1" fill="#a8a8a8" />
<rect x="923" y="3" width="3" height="1" fill="#a8a8a8" />
<rect x="923" y="5" width="3" height="1" fill="#a8a8a8" />
<rect x="923" y="7" width="3" height="1" fill="#a8a8a8" />
<rect x="923" y="9" width="3" height="1" fill="#a8a8a8" />
<rect x="923" y="11" width="3" height="1" fill="#a8a8a8" />
<rect x="923" y="13" width="3" height="1" fill="#a8a8a8" />
<rect x="923" y="15" width="3" height="1" fill="#a8a8a8" />
<rect x="1180" y="0" width="1" height="20" fill="#8c8c8c" />
<rect x="1181" y="0" width="1" height="20" fill="#fdfdfd" />
<text x="38" y="11.2" font-size="12" fill="#000" text-anchor="start" font-weight="normal" stroke="#000" stroke-width="0.3">新订单</text>
<text x="190.2" y="11.2" font-size="12" fill="#000" text-anchor="start" font-weight="normal" stroke="#000" stroke-width="0.3">自动交易</text>
<text x="812.8" y="16.8" font-size="6.5" fill="#505050" text-anchor="start" font-weight="bold" >F</text>
<text x="785.2" y="16.6" font-size="6.5" fill="#505050" text-anchor="start" font-weight="bold" >E</text>
<text x="833.3" y="12.4" font-size="11.5" fill="#606060" text-anchor="start" font-weight="bold" >A</text>
<text x="862.2" y="12.6" font-size="11" fill="#505050" text-anchor="start" font-weight="bold" >T</text>
<text x="934.5" y="11.8" font-size="9.3" fill="#404040" text-anchor="start" font-weight="normal" >M1</text>
<text x="962.5" y="11.8" font-size="9.3" fill="#404040" text-anchor="start" font-weight="normal" >M5</text>
<text x="988" y="11.8" font-size="9.3" fill="#404040" text-anchor="start" font-weight="normal" >M15</text>
<text x="1016" y="11.8" font-size="9.3" fill="#404040" text-anchor="start" font-weight="normal" >M30</text>
<text x="1047" y="11.8" font-size="9.3" fill="#404040" text-anchor="start" font-weight="normal" >H1</text>
<text x="1074.3" y="11.8" font-size="9.3" fill="#404040" text-anchor="start" font-weight="normal" >H4</text>
<text x="1103" y="11.8" font-size="9.3" fill="#404040" text-anchor="start" font-weight="normal" >D1</text>
<text x="1131" y="11.8" font-size="9.3" fill="#404040" text-anchor="start" font-weight="normal" >W1</text>
<text x="1157.5" y="11.8" font-size="9.3" fill="#404040" text-anchor="start" font-weight="normal" >MN</text>
<text x="1681.3" y="10" font-size="12.5" fill="#fff" text-anchor="middle" font-weight="normal" >1</text>
</svg>
</body></html>
